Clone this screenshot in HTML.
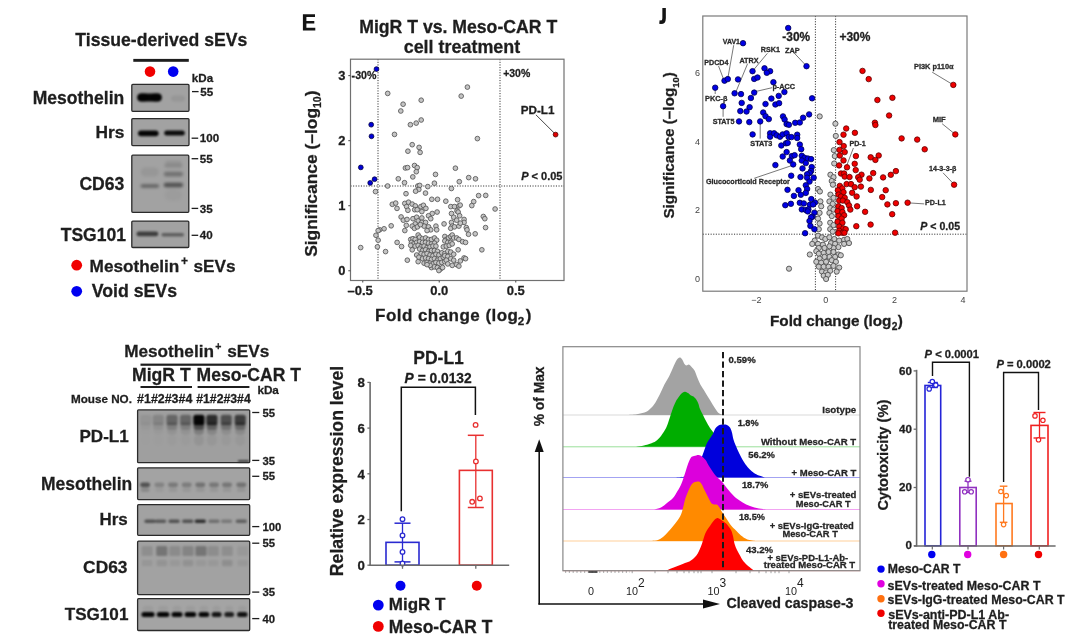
<!DOCTYPE html>
<html><head><meta charset="utf-8"><title>Figure</title>
<style>html,body{margin:0;padding:0;background:#fff;width:1080px;height:643px;overflow:hidden}svg{display:block;filter:blur(0.4px)}text{font-family:"Liberation Sans",sans-serif}</style>
</head><body>
<svg width="1080" height="643" viewBox="0 0 1080 643" font-family="Liberation Sans, sans-serif" fill="#1e1e1e">
<defs>
<filter id="b1" x="-50%" y="-50%" width="200%" height="200%"><feGaussianBlur stdDeviation="1.2"/></filter>
<filter id="b15" x="-50%" y="-50%" width="200%" height="200%"><feGaussianBlur stdDeviation="1.5"/></filter>
<filter id="b2" x="-50%" y="-50%" width="200%" height="200%"><feGaussianBlur stdDeviation="2"/></filter>
<filter id="b05" x="-50%" y="-50%" width="200%" height="200%"><feGaussianBlur stdDeviation="0.6"/></filter>
</defs>
<rect width="1080" height="643" fill="#ffffff"/>
<text x="75.30" y="45.70" font-size="17.63" font-weight="bold" stroke="#1e1e1e" stroke-width="0.28">Tissue-derived sEVs</text>
<rect x="133.30" y="58.90" width="55.50" height="2.90" fill="#1e1e1e" stroke="none" stroke-width="1" />
<circle cx="150.00" cy="71.60" r="5.30" fill="#f00000" stroke="none" stroke-width="1"/>
<circle cx="173.20" cy="71.60" r="5.30" fill="#0000f0" stroke="none" stroke-width="1"/>
<text x="191.80" y="82.10" font-size="11.61" font-weight="bold" stroke="#1e1e1e" stroke-width="0.28">kDa</text>
<g>
<rect x="131.80" y="84.40" width="57.20" height="26.90" fill="#a2a2a2" stroke="none" stroke-width="1" />
<g filter="url(#b1)">
<rect x="137.2" y="93.4" width="24.6" height="8.0" rx="4.0" fill="#000" opacity="0.97"/>
<rect x="137.5" y="93.0" width="11.0" height="8.8" rx="4.4" fill="#000" opacity="0.5"/>
<rect x="150.5" y="93.0" width="11.0" height="8.8" rx="4.4" fill="#000" opacity="0.5"/>
<rect x="171.0" y="95.5" width="14.0" height="6.0" rx="3.0" fill="#000" opacity="0.07"/>
</g>
<rect x="131.80" y="84.40" width="57.20" height="26.90" fill="none" stroke="#2b2b2b" stroke-width="1.3" rx="1"/>
</g>
<g>
<rect x="131.80" y="118.60" width="57.20" height="27.00" fill="#a2a2a2" stroke="none" stroke-width="1" />
<g filter="url(#b1)">
<rect x="138.0" y="130.4" width="20.6" height="5.8" rx="2.9" fill="#000" opacity="0.97"/>
<rect x="164.2" y="130.5" width="20.6" height="5.0" rx="2.5" fill="#000" opacity="0.93"/>
</g>
<rect x="131.80" y="118.60" width="57.20" height="27.00" fill="none" stroke="#2b2b2b" stroke-width="1.3" rx="1"/>
</g>
<g>
<rect x="131.80" y="155.20" width="57.00" height="57.10" fill="#a2a2a2" stroke="none" stroke-width="1" />
<g filter="url(#b15)">
<rect x="140.5" y="184.2" width="18.6" height="3.6" rx="1.8" fill="#000" opacity="0.4"/>
<rect x="163.7" y="182.7" width="19.4" height="4.6" rx="2.3" fill="#000" opacity="0.5"/>
<rect x="163.7" y="171.7" width="19.4" height="4.8" rx="2.4" fill="#000" opacity="0.3"/>
<rect x="164.4" y="163.3" width="18.0" height="4.4" rx="2.2" fill="#000" opacity="0.15"/>
<rect x="165.4" y="160.5" width="16.0" height="3.0" rx="1.5" fill="#000" opacity="0.08"/>
<rect x="140.8" y="167.5" width="18.0" height="9.0" rx="4.5" fill="#000" opacity="0.07"/>
<rect x="164.4" y="189.0" width="18.0" height="12.0" rx="6.0" fill="#000" opacity="0.035"/>
</g>
<rect x="131.80" y="155.20" width="57.00" height="57.10" fill="none" stroke="#2b2b2b" stroke-width="1.3" rx="1"/>
</g>
<g>
<rect x="131.80" y="221.10" width="57.00" height="26.40" fill="#a2a2a2" stroke="none" stroke-width="1" />
<g filter="url(#b1)">
<rect x="136.5" y="231.5" width="21.8" height="4.8" rx="2.4" fill="#000" opacity="0.62"/>
<rect x="161.4" y="232.9" width="22.6" height="3.6" rx="1.8" fill="#000" opacity="0.42"/>
</g>
<rect x="131.80" y="221.10" width="57.00" height="26.40" fill="none" stroke="#2b2b2b" stroke-width="1.3" rx="1"/>
</g>
<text x="32.70" y="104.00" font-size="17.54" font-weight="bold" stroke="#1e1e1e" stroke-width="0.28">Mesothelin</text>
<text x="95.50" y="138.30" font-size="17.33" font-weight="bold" stroke="#1e1e1e" stroke-width="0.28">Hrs</text>
<text x="79.40" y="189.80" font-size="17.56" font-weight="bold" stroke="#1e1e1e" stroke-width="0.28">CD63</text>
<text x="60.70" y="240.80" font-size="17.56" font-weight="bold" stroke="#1e1e1e" stroke-width="0.28">TSG101</text>
<line x1="192.00" y1="91.60" x2="198.60" y2="91.60" stroke="#1e1e1e" stroke-width="1.3" />
<text x="200.20" y="95.70" font-size="11.60" font-weight="bold" stroke="#1e1e1e" stroke-width="0.28">55</text>
<line x1="191.60" y1="138.20" x2="198.20" y2="138.20" stroke="#1e1e1e" stroke-width="1.3" />
<text x="199.80" y="142.30" font-size="11.60" font-weight="bold" stroke="#1e1e1e" stroke-width="0.28">100</text>
<line x1="191.60" y1="158.70" x2="198.20" y2="158.70" stroke="#1e1e1e" stroke-width="1.3" />
<text x="199.80" y="162.80" font-size="11.60" font-weight="bold" stroke="#1e1e1e" stroke-width="0.28">55</text>
<line x1="191.60" y1="208.40" x2="198.20" y2="208.40" stroke="#1e1e1e" stroke-width="1.3" />
<text x="199.80" y="212.50" font-size="11.60" font-weight="bold" stroke="#1e1e1e" stroke-width="0.28">35</text>
<line x1="191.60" y1="235.30" x2="198.20" y2="235.30" stroke="#1e1e1e" stroke-width="1.3" />
<text x="199.80" y="239.40" font-size="11.60" font-weight="bold" stroke="#1e1e1e" stroke-width="0.28">40</text>
<circle cx="76.70" cy="265.20" r="5.40" fill="#f00000" stroke="none" stroke-width="1"/>
<text x="89.60" y="271.90" font-size="17.20" font-weight="bold" stroke="#1e1e1e" stroke-width="0.28">Mesothelin</text>
<text x="181.00" y="265.20" font-size="12.00" font-weight="bold" stroke="#1e1e1e" stroke-width="0.28">+</text>
<text x="193.50" y="271.90" font-size="17.20" font-weight="bold" stroke="#1e1e1e" stroke-width="0.28">sEVs</text>
<circle cx="76.70" cy="291.30" r="5.40" fill="#0000f0" stroke="none" stroke-width="1"/>
<text x="91.70" y="296.80" font-size="17.73" font-weight="bold" stroke="#1e1e1e" stroke-width="0.28">Void sEVs</text>
<text x="124.20" y="357.00" font-size="17.20" font-weight="bold" stroke="#1e1e1e" stroke-width="0.28">Mesothelin</text>
<text x="215.30" y="350.00" font-size="10.50" font-weight="bold" stroke="#1e1e1e" stroke-width="0.28">+</text>
<text x="227.20" y="357.00" font-size="17.20" font-weight="bold" stroke="#1e1e1e" stroke-width="0.28">sEVs</text>
<rect x="140.50" y="363.60" width="110.50" height="2.20" fill="#1e1e1e" stroke="none" stroke-width="1" />
<text x="132.00" y="380.50" font-size="17.61" font-weight="bold" stroke="#1e1e1e" stroke-width="0.28">MigR T</text>
<text x="196.60" y="381.00" font-size="17.56" font-weight="bold" stroke="#1e1e1e" stroke-width="0.28">Meso-CAR T</text>
<rect x="140.50" y="386.00" width="51.50" height="2.00" fill="#1e1e1e" stroke="none" stroke-width="1" />
<rect x="197.60" y="386.00" width="51.80" height="2.00" fill="#1e1e1e" stroke="none" stroke-width="1" />
<text x="257.40" y="393.90" font-size="11.72" font-weight="bold" stroke="#1e1e1e" stroke-width="0.28">kDa</text>
<text x="70.90" y="403.00" font-size="11.70" font-weight="bold" stroke="#1e1e1e" stroke-width="0.28">Mouse NO.</text>
<text x="137.10" y="403.00" font-size="12.41" font-weight="bold" stroke="#1e1e1e" stroke-width="0.28">#1#2#3#4</text>
<text x="196.20" y="403.00" font-size="12.27" font-weight="bold" stroke="#1e1e1e" stroke-width="0.28">#1#2#3#4</text>
<g>
<rect x="137.60" y="409.80" width="112.10" height="52.90" fill="#9f9f9f" stroke="none" stroke-width="1" />
<g filter="url(#b1)">
<rect x="140.1" y="414.8" width="11.2" height="10.4" rx="2.5" fill="#000" opacity="0.07"/>
<rect x="140.3" y="422.5" width="10.8" height="7.0" rx="2.5" fill="#000" opacity="0.035"/>
<rect x="140.7" y="427.5" width="10.0" height="7.0" rx="3.5" fill="#000" opacity="0.015400000000000002"/>
<rect x="140.7" y="434.0" width="10.0" height="12.0" rx="5.0" fill="#000" opacity="0.004900000000000001"/>
<rect x="152.7" y="414.8" width="11.2" height="10.4" rx="2.5" fill="#000" opacity="0.16"/>
<rect x="152.9" y="422.5" width="10.8" height="7.0" rx="2.5" fill="#000" opacity="0.08"/>
<rect x="153.3" y="427.5" width="10.0" height="7.0" rx="3.5" fill="#000" opacity="0.0352"/>
<rect x="153.3" y="434.0" width="10.0" height="12.0" rx="5.0" fill="#000" opacity="0.011200000000000002"/>
<rect x="166.4" y="414.8" width="11.2" height="10.4" rx="2.5" fill="#000" opacity="0.36"/>
<rect x="166.6" y="422.5" width="10.8" height="7.0" rx="2.5" fill="#000" opacity="0.18"/>
<rect x="167.0" y="427.5" width="10.0" height="7.0" rx="3.5" fill="#000" opacity="0.07919999999999999"/>
<rect x="167.0" y="434.0" width="10.0" height="12.0" rx="5.0" fill="#000" opacity="0.0252"/>
<rect x="180.0" y="414.8" width="11.2" height="10.4" rx="2.5" fill="#000" opacity="0.36"/>
<rect x="180.2" y="422.5" width="10.8" height="7.0" rx="2.5" fill="#000" opacity="0.18"/>
<rect x="180.6" y="427.5" width="10.0" height="7.0" rx="3.5" fill="#000" opacity="0.07919999999999999"/>
<rect x="180.6" y="434.0" width="10.0" height="12.0" rx="5.0" fill="#000" opacity="0.0252"/>
<rect x="193.3" y="414.8" width="11.2" height="10.4" rx="2.5" fill="#000" opacity="0.97"/>
<rect x="193.5" y="422.5" width="10.8" height="7.0" rx="2.5" fill="#000" opacity="0.485"/>
<rect x="193.9" y="427.5" width="10.0" height="7.0" rx="3.5" fill="#000" opacity="0.2134"/>
<rect x="193.9" y="434.0" width="10.0" height="12.0" rx="5.0" fill="#000" opacity="0.0679"/>
<rect x="206.3" y="414.8" width="11.2" height="10.4" rx="2.5" fill="#000" opacity="0.72"/>
<rect x="206.5" y="422.5" width="10.8" height="7.0" rx="2.5" fill="#000" opacity="0.36"/>
<rect x="206.9" y="427.5" width="10.0" height="7.0" rx="3.5" fill="#000" opacity="0.15839999999999999"/>
<rect x="206.9" y="434.0" width="10.0" height="12.0" rx="5.0" fill="#000" opacity="0.0504"/>
<rect x="220.6" y="414.8" width="11.2" height="10.4" rx="2.5" fill="#000" opacity="0.5"/>
<rect x="220.8" y="422.5" width="10.8" height="7.0" rx="2.5" fill="#000" opacity="0.25"/>
<rect x="221.2" y="427.5" width="10.0" height="7.0" rx="3.5" fill="#000" opacity="0.11"/>
<rect x="221.2" y="434.0" width="10.0" height="12.0" rx="5.0" fill="#000" opacity="0.035"/>
<rect x="234.6" y="414.8" width="11.2" height="10.4" rx="2.5" fill="#000" opacity="0.62"/>
<rect x="234.8" y="422.5" width="10.8" height="7.0" rx="2.5" fill="#000" opacity="0.31"/>
<rect x="235.2" y="427.5" width="10.0" height="7.0" rx="3.5" fill="#000" opacity="0.1364"/>
<rect x="235.2" y="434.0" width="10.0" height="12.0" rx="5.0" fill="#000" opacity="0.0434"/>
<rect x="238.0" y="460.5" width="11.0" height="1.6" rx="0.5" fill="#000" opacity="0.9"/>
</g>
<rect x="137.60" y="409.80" width="112.10" height="52.90" fill="none" stroke="#2b2b2b" stroke-width="1.3" rx="1"/>
</g>
<g>
<rect x="137.60" y="467.80" width="112.10" height="31.80" fill="#a3a3a3" stroke="none" stroke-width="1" />
<g filter="url(#b1)">
<rect x="140.1" y="482.4" width="10.0" height="4.8" rx="2.4" fill="#000" opacity="0.5"/>
<rect x="154.4" y="482.4" width="10.0" height="4.8" rx="2.4" fill="#000" opacity="0.2"/>
<rect x="168.0" y="482.4" width="10.0" height="4.8" rx="2.4" fill="#000" opacity="0.26"/>
<rect x="181.7" y="482.4" width="10.0" height="4.8" rx="2.4" fill="#000" opacity="0.24"/>
<rect x="195.3" y="482.4" width="10.0" height="4.8" rx="2.4" fill="#000" opacity="0.3"/>
<rect x="209.0" y="482.4" width="10.0" height="4.8" rx="2.4" fill="#000" opacity="0.27"/>
<rect x="222.0" y="482.4" width="10.0" height="4.8" rx="2.4" fill="#000" opacity="0.28"/>
<rect x="236.3" y="482.4" width="10.0" height="4.8" rx="2.4" fill="#000" opacity="0.3"/>
<rect x="140.6" y="488.0" width="9.0" height="4.0" rx="2.0" fill="#000" opacity="0.155"/>
<rect x="154.9" y="488.0" width="9.0" height="4.0" rx="2.0" fill="#000" opacity="0.055"/>
<rect x="168.5" y="488.0" width="9.0" height="4.0" rx="2.0" fill="#000" opacity="0.075"/>
<rect x="182.2" y="488.0" width="9.0" height="4.0" rx="2.0" fill="#000" opacity="0.07"/>
<rect x="195.8" y="488.0" width="9.0" height="4.0" rx="2.0" fill="#000" opacity="0.0825"/>
<rect x="209.5" y="488.0" width="9.0" height="4.0" rx="2.0" fill="#000" opacity="0.075"/>
<rect x="222.5" y="488.0" width="9.0" height="4.0" rx="2.0" fill="#000" opacity="0.08"/>
<rect x="236.8" y="488.0" width="9.0" height="4.0" rx="2.0" fill="#000" opacity="0.085"/>
</g>
<rect x="137.60" y="467.80" width="112.10" height="31.80" fill="none" stroke="#2b2b2b" stroke-width="1.3" rx="1"/>
</g>
<g>
<rect x="137.60" y="504.70" width="112.10" height="30.60" fill="#a2a2a2" stroke="none" stroke-width="1" />
<g filter="url(#b1)">
<rect x="144.4" y="519.5" width="11.2" height="3.4" rx="1.7" fill="#000" opacity="0.5"/>
<rect x="155.0" y="519.5" width="11.2" height="3.4" rx="1.7" fill="#000" opacity="0.45"/>
<rect x="168.5" y="519.5" width="11.2" height="3.4" rx="1.7" fill="#000" opacity="0.5"/>
<rect x="182.1" y="519.5" width="11.2" height="3.4" rx="1.7" fill="#000" opacity="0.5"/>
<rect x="194.7" y="519.5" width="11.2" height="3.4" rx="1.7" fill="#000" opacity="0.72"/>
<rect x="208.4" y="519.5" width="11.2" height="3.4" rx="1.7" fill="#000" opacity="0.32"/>
<rect x="221.0" y="519.5" width="11.2" height="3.4" rx="1.7" fill="#000" opacity="0.26"/>
<rect x="235.7" y="519.5" width="11.2" height="3.4" rx="1.7" fill="#000" opacity="0.42"/>
</g>
<rect x="137.60" y="504.70" width="112.10" height="30.60" fill="none" stroke="#2b2b2b" stroke-width="1.3" rx="1"/>
</g>
<g>
<rect x="137.60" y="541.20" width="112.10" height="53.40" fill="#a2a2a2" stroke="none" stroke-width="1" />
<g filter="url(#b1)">
<rect x="141.5" y="546.0" width="11.2" height="10.0" rx="1.5" fill="#000" opacity="0.12"/>
<rect x="156.2" y="546.0" width="11.2" height="10.0" rx="1.5" fill="#000" opacity="0.28"/>
<rect x="169.3" y="546.0" width="11.2" height="10.0" rx="1.5" fill="#000" opacity="0.14"/>
<rect x="182.4" y="546.0" width="11.2" height="10.0" rx="1.5" fill="#000" opacity="0.19"/>
<rect x="195.4" y="546.0" width="11.2" height="10.0" rx="1.5" fill="#000" opacity="0.28"/>
<rect x="207.7" y="546.0" width="11.2" height="10.0" rx="1.5" fill="#000" opacity="0.13"/>
<rect x="221.6" y="546.0" width="11.2" height="10.0" rx="1.5" fill="#000" opacity="0.12"/>
<rect x="237.1" y="546.0" width="11.2" height="10.0" rx="1.5" fill="#000" opacity="0.06"/>
<rect x="141.8" y="559.8" width="10.6" height="6.4" rx="1.5" fill="#000" opacity="0.07"/>
<rect x="156.5" y="559.8" width="10.6" height="6.4" rx="1.5" fill="#000" opacity="0.09"/>
<rect x="169.6" y="559.8" width="10.6" height="6.4" rx="1.5" fill="#000" opacity="0.06"/>
<rect x="182.7" y="559.8" width="10.6" height="6.4" rx="1.5" fill="#000" opacity="0.1"/>
<rect x="195.7" y="559.8" width="10.6" height="6.4" rx="1.5" fill="#000" opacity="0.06"/>
<rect x="208.0" y="559.8" width="10.6" height="6.4" rx="1.5" fill="#000" opacity="0.06"/>
<rect x="221.9" y="559.8" width="10.6" height="6.4" rx="1.5" fill="#000" opacity="0.12"/>
<rect x="237.4" y="559.8" width="10.6" height="6.4" rx="1.5" fill="#000" opacity="0.06"/>
</g>
<rect x="137.60" y="541.20" width="112.10" height="53.40" fill="none" stroke="#2b2b2b" stroke-width="1.3" rx="1"/>
</g>
<g>
<rect x="137.60" y="598.70" width="112.10" height="31.80" fill="#a4a4a4" stroke="none" stroke-width="1" />
<g filter="url(#b1)">
<rect x="141.4" y="612.0" width="13.2" height="5.0" rx="2.5" fill="#000" opacity="0.97"/>
<rect x="156.8" y="612.0" width="12.6" height="5.0" rx="2.5" fill="#000" opacity="0.97"/>
<rect x="171.5" y="612.0" width="11.0" height="5.0" rx="2.5" fill="#000" opacity="0.96"/>
<rect x="184.6" y="612.0" width="11.6" height="5.0" rx="2.5" fill="#000" opacity="0.97"/>
<rect x="198.5" y="612.0" width="10.8" height="5.0" rx="2.5" fill="#000" opacity="0.95"/>
<rect x="211.6" y="612.0" width="10.0" height="5.0" rx="2.5" fill="#000" opacity="0.88"/>
<rect x="224.3" y="612.0" width="9.8" height="5.0" rx="2.5" fill="#000" opacity="0.82"/>
<rect x="237.0" y="612.0" width="10.6" height="5.0" rx="2.5" fill="#000" opacity="0.9"/>
<rect x="142.7" y="606.0" width="10.6" height="5.0" rx="2.5" fill="#000" opacity="0.05"/>
<rect x="158.1" y="606.0" width="10.1" height="5.0" rx="2.5" fill="#000" opacity="0.05"/>
<rect x="172.6" y="606.0" width="8.8" height="5.0" rx="2.5" fill="#000" opacity="0.05"/>
<rect x="185.8" y="606.0" width="9.3" height="5.0" rx="2.5" fill="#000" opacity="0.05"/>
<rect x="199.6" y="606.0" width="8.6" height="5.0" rx="2.5" fill="#000" opacity="0.05"/>
<rect x="212.6" y="606.0" width="8.0" height="5.0" rx="2.5" fill="#000" opacity="0.05"/>
<rect x="225.3" y="606.0" width="7.8" height="5.0" rx="2.5" fill="#000" opacity="0.05"/>
<rect x="238.1" y="606.0" width="8.5" height="5.0" rx="2.5" fill="#000" opacity="0.05"/>
</g>
<rect x="137.60" y="598.70" width="112.10" height="31.80" fill="none" stroke="#2b2b2b" stroke-width="1.3" rx="1"/>
</g>
<text x="79.40" y="441.80" font-size="17.10" font-weight="bold" stroke="#1e1e1e" stroke-width="0.28">PD-L1</text>
<text x="41.00" y="490.00" font-size="17.48" font-weight="bold" stroke="#1e1e1e" stroke-width="0.28">Mesothelin</text>
<text x="99.40" y="525.30" font-size="16.97" font-weight="bold" stroke="#1e1e1e" stroke-width="0.28">Hrs</text>
<text x="83.10" y="572.80" font-size="17.37" font-weight="bold" stroke="#1e1e1e" stroke-width="0.28">CD63</text>
<text x="64.70" y="619.60" font-size="17.13" font-weight="bold" stroke="#1e1e1e" stroke-width="0.28">TSG101</text>
<line x1="252.20" y1="412.50" x2="259.30" y2="412.50" stroke="#1e1e1e" stroke-width="1.3" />
<text x="262.40" y="416.60" font-size="11.30" font-weight="bold" stroke="#1e1e1e" stroke-width="0.28">55</text>
<line x1="252.20" y1="460.40" x2="259.30" y2="460.40" stroke="#1e1e1e" stroke-width="1.3" />
<text x="262.40" y="464.50" font-size="11.30" font-weight="bold" stroke="#1e1e1e" stroke-width="0.28">35</text>
<line x1="252.20" y1="476.30" x2="259.30" y2="476.30" stroke="#1e1e1e" stroke-width="1.3" />
<text x="262.40" y="480.40" font-size="11.30" font-weight="bold" stroke="#1e1e1e" stroke-width="0.28">55</text>
<line x1="252.20" y1="526.60" x2="259.30" y2="526.60" stroke="#1e1e1e" stroke-width="1.3" />
<text x="262.40" y="530.70" font-size="11.30" font-weight="bold" stroke="#1e1e1e" stroke-width="0.28">100</text>
<line x1="252.20" y1="543.20" x2="259.30" y2="543.20" stroke="#1e1e1e" stroke-width="1.3" />
<text x="262.40" y="547.30" font-size="11.30" font-weight="bold" stroke="#1e1e1e" stroke-width="0.28">55</text>
<line x1="252.20" y1="592.10" x2="259.30" y2="592.10" stroke="#1e1e1e" stroke-width="1.3" />
<text x="262.40" y="596.20" font-size="11.30" font-weight="bold" stroke="#1e1e1e" stroke-width="0.28">35</text>
<line x1="252.20" y1="618.60" x2="259.30" y2="618.60" stroke="#1e1e1e" stroke-width="1.3" />
<text x="262.40" y="622.70" font-size="11.30" font-weight="bold" stroke="#1e1e1e" stroke-width="0.28">40</text>
<path d="M302.9,14.2 H315.0 V17.0 H306.4 V20.9 H314.3 V23.5 H306.4 V27.7 H315.3 V30.5 H302.9 Z" fill="#141414"/>
<text x="359.20" y="32.90" font-size="17.65" font-weight="bold" stroke="#1e1e1e" stroke-width="0.28">MigR T vs. Meso-CAR T</text>
<text x="403.70" y="53.20" font-size="17.93" font-weight="bold" stroke="#1e1e1e" stroke-width="0.28">cell treatment</text>
<line x1="378.00" y1="59.20" x2="378.00" y2="280.50" stroke="#333" stroke-width="1" stroke-dasharray="1.1 1.5"/>
<line x1="500.00" y1="59.20" x2="500.00" y2="280.50" stroke="#333" stroke-width="1" stroke-dasharray="1.1 1.5"/>
<line x1="350.50" y1="186.00" x2="564.00" y2="186.00" stroke="#333" stroke-width="1" stroke-dasharray="1.1 1.5"/>
<circle cx="387.70" cy="93.40" r="2.35" fill="#c4c4c4" stroke="#555555" stroke-width="0.85"/>
<circle cx="421.20" cy="100.20" r="2.35" fill="#c4c4c4" stroke="#555555" stroke-width="0.85"/>
<circle cx="403.10" cy="104.20" r="2.35" fill="#c4c4c4" stroke="#555555" stroke-width="0.85"/>
<circle cx="400.80" cy="111.00" r="2.35" fill="#c4c4c4" stroke="#555555" stroke-width="0.85"/>
<circle cx="421.20" cy="120.00" r="2.35" fill="#c4c4c4" stroke="#555555" stroke-width="0.85"/>
<circle cx="416.20" cy="123.10" r="2.35" fill="#c4c4c4" stroke="#555555" stroke-width="0.85"/>
<circle cx="410.40" cy="124.70" r="2.35" fill="#c4c4c4" stroke="#555555" stroke-width="0.85"/>
<circle cx="394.50" cy="134.40" r="2.35" fill="#c4c4c4" stroke="#555555" stroke-width="0.85"/>
<circle cx="467.40" cy="87.10" r="2.35" fill="#c4c4c4" stroke="#555555" stroke-width="0.85"/>
<circle cx="461.20" cy="96.10" r="2.35" fill="#c4c4c4" stroke="#555555" stroke-width="0.85"/>
<circle cx="477.40" cy="138.60" r="2.35" fill="#c4c4c4" stroke="#555555" stroke-width="0.85"/>
<circle cx="412.20" cy="144.70" r="2.35" fill="#c4c4c4" stroke="#555555" stroke-width="0.85"/>
<circle cx="419.10" cy="147.40" r="2.35" fill="#c4c4c4" stroke="#555555" stroke-width="0.85"/>
<circle cx="407.90" cy="151.20" r="2.35" fill="#c4c4c4" stroke="#555555" stroke-width="0.85"/>
<circle cx="420.10" cy="152.40" r="2.35" fill="#c4c4c4" stroke="#555555" stroke-width="0.85"/>
<circle cx="414.50" cy="165.50" r="2.35" fill="#c4c4c4" stroke="#555555" stroke-width="0.85"/>
<circle cx="417.20" cy="167.60" r="2.35" fill="#c4c4c4" stroke="#555555" stroke-width="0.85"/>
<circle cx="405.40" cy="168.00" r="2.35" fill="#c4c4c4" stroke="#555555" stroke-width="0.85"/>
<circle cx="407.60" cy="167.60" r="2.35" fill="#c4c4c4" stroke="#555555" stroke-width="0.85"/>
<circle cx="416.30" cy="171.70" r="2.35" fill="#c4c4c4" stroke="#555555" stroke-width="0.85"/>
<circle cx="412.80" cy="176.90" r="2.35" fill="#c4c4c4" stroke="#555555" stroke-width="0.85"/>
<circle cx="398.30" cy="178.80" r="2.35" fill="#c4c4c4" stroke="#555555" stroke-width="0.85"/>
<circle cx="404.50" cy="182.70" r="2.35" fill="#c4c4c4" stroke="#555555" stroke-width="0.85"/>
<circle cx="435.50" cy="174.40" r="2.35" fill="#c4c4c4" stroke="#555555" stroke-width="0.85"/>
<circle cx="455.40" cy="168.20" r="2.35" fill="#c4c4c4" stroke="#555555" stroke-width="0.85"/>
<circle cx="434.40" cy="183.20" r="2.35" fill="#c4c4c4" stroke="#555555" stroke-width="0.85"/>
<circle cx="459.30" cy="181.70" r="2.35" fill="#c4c4c4" stroke="#555555" stroke-width="0.85"/>
<circle cx="387.60" cy="186.00" r="2.35" fill="#c4c4c4" stroke="#555555" stroke-width="0.85"/>
<circle cx="417.80" cy="186.00" r="2.35" fill="#c4c4c4" stroke="#555555" stroke-width="0.85"/>
<circle cx="419.70" cy="185.40" r="2.35" fill="#c4c4c4" stroke="#555555" stroke-width="0.85"/>
<circle cx="427.80" cy="186.60" r="2.35" fill="#c4c4c4" stroke="#555555" stroke-width="0.85"/>
<circle cx="418.80" cy="189.50" r="2.35" fill="#c4c4c4" stroke="#555555" stroke-width="0.85"/>
<circle cx="415.60" cy="191.20" r="2.35" fill="#c4c4c4" stroke="#555555" stroke-width="0.85"/>
<circle cx="451.40" cy="188.50" r="2.35" fill="#c4c4c4" stroke="#555555" stroke-width="0.85"/>
<circle cx="375.50" cy="191.60" r="2.35" fill="#c4c4c4" stroke="#555555" stroke-width="0.85"/>
<circle cx="406.00" cy="193.70" r="2.35" fill="#c4c4c4" stroke="#555555" stroke-width="0.85"/>
<circle cx="425.50" cy="193.10" r="2.35" fill="#c4c4c4" stroke="#555555" stroke-width="0.85"/>
<circle cx="431.80" cy="199.30" r="2.35" fill="#c4c4c4" stroke="#555555" stroke-width="0.85"/>
<circle cx="437.50" cy="199.30" r="2.35" fill="#c4c4c4" stroke="#555555" stroke-width="0.85"/>
<circle cx="445.80" cy="201.20" r="2.35" fill="#c4c4c4" stroke="#555555" stroke-width="0.85"/>
<circle cx="457.60" cy="199.70" r="2.35" fill="#c4c4c4" stroke="#555555" stroke-width="0.85"/>
<circle cx="392.30" cy="204.30" r="2.35" fill="#c4c4c4" stroke="#555555" stroke-width="0.85"/>
<circle cx="395.70" cy="203.10" r="2.35" fill="#c4c4c4" stroke="#555555" stroke-width="0.85"/>
<circle cx="397.00" cy="208.40" r="2.35" fill="#c4c4c4" stroke="#555555" stroke-width="0.85"/>
<circle cx="404.80" cy="203.40" r="2.35" fill="#c4c4c4" stroke="#555555" stroke-width="0.85"/>
<circle cx="408.50" cy="202.20" r="2.35" fill="#c4c4c4" stroke="#555555" stroke-width="0.85"/>
<circle cx="406.60" cy="206.60" r="2.35" fill="#c4c4c4" stroke="#555555" stroke-width="0.85"/>
<circle cx="412.20" cy="204.10" r="2.35" fill="#c4c4c4" stroke="#555555" stroke-width="0.85"/>
<circle cx="415.30" cy="205.90" r="2.35" fill="#c4c4c4" stroke="#555555" stroke-width="0.85"/>
<circle cx="420.90" cy="206.60" r="2.35" fill="#c4c4c4" stroke="#555555" stroke-width="0.85"/>
<circle cx="423.40" cy="205.30" r="2.35" fill="#c4c4c4" stroke="#555555" stroke-width="0.85"/>
<circle cx="425.90" cy="208.40" r="2.35" fill="#c4c4c4" stroke="#555555" stroke-width="0.85"/>
<circle cx="407.90" cy="210.30" r="2.35" fill="#c4c4c4" stroke="#555555" stroke-width="0.85"/>
<circle cx="414.70" cy="209.70" r="2.35" fill="#c4c4c4" stroke="#555555" stroke-width="0.85"/>
<circle cx="417.20" cy="209.70" r="2.35" fill="#c4c4c4" stroke="#555555" stroke-width="0.85"/>
<circle cx="450.80" cy="206.60" r="2.35" fill="#c4c4c4" stroke="#555555" stroke-width="0.85"/>
<circle cx="454.50" cy="206.60" r="2.35" fill="#c4c4c4" stroke="#555555" stroke-width="0.85"/>
<circle cx="458.90" cy="205.90" r="2.35" fill="#c4c4c4" stroke="#555555" stroke-width="0.85"/>
<circle cx="457.00" cy="210.90" r="2.35" fill="#c4c4c4" stroke="#555555" stroke-width="0.85"/>
<circle cx="468.70" cy="177.60" r="2.35" fill="#c4c4c4" stroke="#555555" stroke-width="0.85"/>
<circle cx="475.50" cy="178.80" r="2.35" fill="#c4c4c4" stroke="#555555" stroke-width="0.85"/>
<circle cx="478.60" cy="195.60" r="2.35" fill="#c4c4c4" stroke="#555555" stroke-width="0.85"/>
<circle cx="485.70" cy="195.40" r="2.35" fill="#c4c4c4" stroke="#555555" stroke-width="0.85"/>
<circle cx="473.70" cy="201.60" r="2.35" fill="#c4c4c4" stroke="#555555" stroke-width="0.85"/>
<circle cx="460.20" cy="205.10" r="2.35" fill="#c4c4c4" stroke="#555555" stroke-width="0.85"/>
<circle cx="471.80" cy="205.60" r="2.35" fill="#c4c4c4" stroke="#555555" stroke-width="0.85"/>
<circle cx="495.10" cy="209.00" r="2.35" fill="#c4c4c4" stroke="#555555" stroke-width="0.85"/>
<circle cx="421.85" cy="211.59" r="2.35" fill="#c4c4c4" stroke="#555555" stroke-width="0.85"/>
<circle cx="437.11" cy="212.04" r="2.35" fill="#c4c4c4" stroke="#555555" stroke-width="0.85"/>
<circle cx="432.22" cy="213.52" r="2.35" fill="#c4c4c4" stroke="#555555" stroke-width="0.85"/>
<circle cx="428.52" cy="215.74" r="2.35" fill="#c4c4c4" stroke="#555555" stroke-width="0.85"/>
<circle cx="430.74" cy="218.70" r="2.35" fill="#c4c4c4" stroke="#555555" stroke-width="0.85"/>
<circle cx="451.48" cy="213.52" r="2.35" fill="#c4c4c4" stroke="#555555" stroke-width="0.85"/>
<circle cx="458.15" cy="212.04" r="2.35" fill="#c4c4c4" stroke="#555555" stroke-width="0.85"/>
<circle cx="459.63" cy="215.74" r="2.35" fill="#c4c4c4" stroke="#555555" stroke-width="0.85"/>
<circle cx="453.70" cy="217.22" r="2.35" fill="#c4c4c4" stroke="#555555" stroke-width="0.85"/>
<circle cx="456.67" cy="220.19" r="2.35" fill="#c4c4c4" stroke="#555555" stroke-width="0.85"/>
<circle cx="464.07" cy="219.44" r="2.35" fill="#c4c4c4" stroke="#555555" stroke-width="0.85"/>
<circle cx="464.07" cy="222.41" r="2.35" fill="#c4c4c4" stroke="#555555" stroke-width="0.85"/>
<circle cx="401.11" cy="216.93" r="2.35" fill="#c4c4c4" stroke="#555555" stroke-width="0.85"/>
<circle cx="403.33" cy="220.19" r="2.35" fill="#c4c4c4" stroke="#555555" stroke-width="0.85"/>
<circle cx="407.04" cy="219.44" r="2.35" fill="#c4c4c4" stroke="#555555" stroke-width="0.85"/>
<circle cx="412.96" cy="218.70" r="2.35" fill="#c4c4c4" stroke="#555555" stroke-width="0.85"/>
<circle cx="416.67" cy="217.22" r="2.35" fill="#c4c4c4" stroke="#555555" stroke-width="0.85"/>
<circle cx="418.15" cy="220.93" r="2.35" fill="#c4c4c4" stroke="#555555" stroke-width="0.85"/>
<circle cx="421.85" cy="217.96" r="2.35" fill="#c4c4c4" stroke="#555555" stroke-width="0.85"/>
<circle cx="421.85" cy="222.41" r="2.35" fill="#c4c4c4" stroke="#555555" stroke-width="0.85"/>
<circle cx="425.56" cy="222.41" r="2.35" fill="#c4c4c4" stroke="#555555" stroke-width="0.85"/>
<circle cx="424.07" cy="226.11" r="2.35" fill="#c4c4c4" stroke="#555555" stroke-width="0.85"/>
<circle cx="428.52" cy="226.85" r="2.35" fill="#c4c4c4" stroke="#555555" stroke-width="0.85"/>
<circle cx="430.74" cy="229.81" r="2.35" fill="#c4c4c4" stroke="#555555" stroke-width="0.85"/>
<circle cx="427.04" cy="230.56" r="2.35" fill="#c4c4c4" stroke="#555555" stroke-width="0.85"/>
<circle cx="435.93" cy="226.11" r="2.35" fill="#c4c4c4" stroke="#555555" stroke-width="0.85"/>
<circle cx="436.67" cy="229.81" r="2.35" fill="#c4c4c4" stroke="#555555" stroke-width="0.85"/>
<circle cx="415.19" cy="223.89" r="2.35" fill="#c4c4c4" stroke="#555555" stroke-width="0.85"/>
<circle cx="412.22" cy="226.11" r="2.35" fill="#c4c4c4" stroke="#555555" stroke-width="0.85"/>
<circle cx="414.44" cy="228.33" r="2.35" fill="#c4c4c4" stroke="#555555" stroke-width="0.85"/>
<circle cx="417.41" cy="226.85" r="2.35" fill="#c4c4c4" stroke="#555555" stroke-width="0.85"/>
<circle cx="420.37" cy="224.63" r="2.35" fill="#c4c4c4" stroke="#555555" stroke-width="0.85"/>
<circle cx="406.30" cy="225.37" r="2.35" fill="#c4c4c4" stroke="#555555" stroke-width="0.85"/>
<circle cx="404.81" cy="230.56" r="2.35" fill="#c4c4c4" stroke="#555555" stroke-width="0.85"/>
<circle cx="391.19" cy="225.81" r="2.35" fill="#c4c4c4" stroke="#555555" stroke-width="0.85"/>
<circle cx="384.07" cy="228.78" r="2.35" fill="#c4c4c4" stroke="#555555" stroke-width="0.85"/>
<circle cx="379.63" cy="229.81" r="2.35" fill="#c4c4c4" stroke="#555555" stroke-width="0.85"/>
<circle cx="378.15" cy="230.56" r="2.35" fill="#c4c4c4" stroke="#555555" stroke-width="0.85"/>
<circle cx="375.93" cy="235.30" r="2.35" fill="#c4c4c4" stroke="#555555" stroke-width="0.85"/>
<circle cx="378.15" cy="240.19" r="2.35" fill="#c4c4c4" stroke="#555555" stroke-width="0.85"/>
<circle cx="377.41" cy="246.85" r="2.35" fill="#c4c4c4" stroke="#555555" stroke-width="0.85"/>
<circle cx="360.67" cy="247.59" r="2.35" fill="#c4c4c4" stroke="#555555" stroke-width="0.85"/>
<circle cx="385.56" cy="251.59" r="2.35" fill="#c4c4c4" stroke="#555555" stroke-width="0.85"/>
<circle cx="397.11" cy="242.41" r="2.35" fill="#c4c4c4" stroke="#555555" stroke-width="0.85"/>
<circle cx="401.56" cy="246.56" r="2.35" fill="#c4c4c4" stroke="#555555" stroke-width="0.85"/>
<circle cx="407.33" cy="260.19" r="2.35" fill="#c4c4c4" stroke="#555555" stroke-width="0.85"/>
<circle cx="412.22" cy="249.81" r="2.35" fill="#c4c4c4" stroke="#555555" stroke-width="0.85"/>
<circle cx="444.07" cy="223.89" r="2.35" fill="#c4c4c4" stroke="#555555" stroke-width="0.85"/>
<circle cx="451.48" cy="222.41" r="2.35" fill="#c4c4c4" stroke="#555555" stroke-width="0.85"/>
<circle cx="452.22" cy="226.11" r="2.35" fill="#c4c4c4" stroke="#555555" stroke-width="0.85"/>
<circle cx="450.74" cy="228.33" r="2.35" fill="#c4c4c4" stroke="#555555" stroke-width="0.85"/>
<circle cx="454.44" cy="226.85" r="2.35" fill="#c4c4c4" stroke="#555555" stroke-width="0.85"/>
<circle cx="458.89" cy="226.11" r="2.35" fill="#c4c4c4" stroke="#555555" stroke-width="0.85"/>
<circle cx="460.37" cy="223.15" r="2.35" fill="#c4c4c4" stroke="#555555" stroke-width="0.85"/>
<circle cx="466.30" cy="227.59" r="2.35" fill="#c4c4c4" stroke="#555555" stroke-width="0.85"/>
<circle cx="467.04" cy="229.81" r="2.35" fill="#c4c4c4" stroke="#555555" stroke-width="0.85"/>
<circle cx="468.52" cy="234.26" r="2.35" fill="#c4c4c4" stroke="#555555" stroke-width="0.85"/>
<circle cx="475.19" cy="233.81" r="2.35" fill="#c4c4c4" stroke="#555555" stroke-width="0.85"/>
<circle cx="483.33" cy="216.48" r="2.35" fill="#c4c4c4" stroke="#555555" stroke-width="0.85"/>
<circle cx="484.81" cy="218.70" r="2.35" fill="#c4c4c4" stroke="#555555" stroke-width="0.85"/>
<circle cx="485.56" cy="227.59" r="2.35" fill="#c4c4c4" stroke="#555555" stroke-width="0.85"/>
<circle cx="481.85" cy="249.81" r="2.35" fill="#c4c4c4" stroke="#555555" stroke-width="0.85"/>
<circle cx="458.15" cy="249.81" r="2.35" fill="#c4c4c4" stroke="#555555" stroke-width="0.85"/>
<circle cx="410.74" cy="239.44" r="2.35" fill="#c4c4c4" stroke="#555555" stroke-width="0.85"/>
<circle cx="412.96" cy="238.70" r="2.35" fill="#c4c4c4" stroke="#555555" stroke-width="0.85"/>
<circle cx="415.19" cy="239.44" r="2.35" fill="#c4c4c4" stroke="#555555" stroke-width="0.85"/>
<circle cx="418.15" cy="235.00" r="2.35" fill="#c4c4c4" stroke="#555555" stroke-width="0.85"/>
<circle cx="419.63" cy="237.22" r="2.35" fill="#c4c4c4" stroke="#555555" stroke-width="0.85"/>
<circle cx="422.59" cy="238.70" r="2.35" fill="#c4c4c4" stroke="#555555" stroke-width="0.85"/>
<circle cx="425.56" cy="237.96" r="2.35" fill="#c4c4c4" stroke="#555555" stroke-width="0.85"/>
<circle cx="428.52" cy="239.44" r="2.35" fill="#c4c4c4" stroke="#555555" stroke-width="0.85"/>
<circle cx="431.48" cy="239.44" r="2.35" fill="#c4c4c4" stroke="#555555" stroke-width="0.85"/>
<circle cx="434.44" cy="237.96" r="2.35" fill="#c4c4c4" stroke="#555555" stroke-width="0.85"/>
<circle cx="436.67" cy="240.19" r="2.35" fill="#c4c4c4" stroke="#555555" stroke-width="0.85"/>
<circle cx="411.48" cy="242.41" r="2.35" fill="#c4c4c4" stroke="#555555" stroke-width="0.85"/>
<circle cx="413.70" cy="243.89" r="2.35" fill="#c4c4c4" stroke="#555555" stroke-width="0.85"/>
<circle cx="416.67" cy="242.41" r="2.35" fill="#c4c4c4" stroke="#555555" stroke-width="0.85"/>
<circle cx="419.63" cy="241.67" r="2.35" fill="#c4c4c4" stroke="#555555" stroke-width="0.85"/>
<circle cx="422.59" cy="242.41" r="2.35" fill="#c4c4c4" stroke="#555555" stroke-width="0.85"/>
<circle cx="425.56" cy="242.41" r="2.35" fill="#c4c4c4" stroke="#555555" stroke-width="0.85"/>
<circle cx="428.52" cy="243.15" r="2.35" fill="#c4c4c4" stroke="#555555" stroke-width="0.85"/>
<circle cx="431.48" cy="243.89" r="2.35" fill="#c4c4c4" stroke="#555555" stroke-width="0.85"/>
<circle cx="434.44" cy="243.15" r="2.35" fill="#c4c4c4" stroke="#555555" stroke-width="0.85"/>
<circle cx="410.74" cy="245.37" r="2.35" fill="#c4c4c4" stroke="#555555" stroke-width="0.85"/>
<circle cx="415.19" cy="246.11" r="2.35" fill="#c4c4c4" stroke="#555555" stroke-width="0.85"/>
<circle cx="418.15" cy="245.37" r="2.35" fill="#c4c4c4" stroke="#555555" stroke-width="0.85"/>
<circle cx="421.11" cy="246.85" r="2.35" fill="#c4c4c4" stroke="#555555" stroke-width="0.85"/>
<circle cx="424.07" cy="246.11" r="2.35" fill="#c4c4c4" stroke="#555555" stroke-width="0.85"/>
<circle cx="427.04" cy="247.59" r="2.35" fill="#c4c4c4" stroke="#555555" stroke-width="0.85"/>
<circle cx="430.00" cy="246.85" r="2.35" fill="#c4c4c4" stroke="#555555" stroke-width="0.85"/>
<circle cx="432.96" cy="246.11" r="2.35" fill="#c4c4c4" stroke="#555555" stroke-width="0.85"/>
<circle cx="435.93" cy="246.11" r="2.35" fill="#c4c4c4" stroke="#555555" stroke-width="0.85"/>
<circle cx="419.63" cy="249.07" r="2.35" fill="#c4c4c4" stroke="#555555" stroke-width="0.85"/>
<circle cx="422.59" cy="250.56" r="2.35" fill="#c4c4c4" stroke="#555555" stroke-width="0.85"/>
<circle cx="425.56" cy="249.81" r="2.35" fill="#c4c4c4" stroke="#555555" stroke-width="0.85"/>
<circle cx="428.52" cy="251.30" r="2.35" fill="#c4c4c4" stroke="#555555" stroke-width="0.85"/>
<circle cx="431.48" cy="250.56" r="2.35" fill="#c4c4c4" stroke="#555555" stroke-width="0.85"/>
<circle cx="434.44" cy="250.56" r="2.35" fill="#c4c4c4" stroke="#555555" stroke-width="0.85"/>
<circle cx="437.41" cy="251.30" r="2.35" fill="#c4c4c4" stroke="#555555" stroke-width="0.85"/>
<circle cx="421.11" cy="253.52" r="2.35" fill="#c4c4c4" stroke="#555555" stroke-width="0.85"/>
<circle cx="424.07" cy="254.26" r="2.35" fill="#c4c4c4" stroke="#555555" stroke-width="0.85"/>
<circle cx="427.04" cy="253.52" r="2.35" fill="#c4c4c4" stroke="#555555" stroke-width="0.85"/>
<circle cx="430.00" cy="255.00" r="2.35" fill="#c4c4c4" stroke="#555555" stroke-width="0.85"/>
<circle cx="432.96" cy="255.74" r="2.35" fill="#c4c4c4" stroke="#555555" stroke-width="0.85"/>
<circle cx="435.93" cy="254.26" r="2.35" fill="#c4c4c4" stroke="#555555" stroke-width="0.85"/>
<circle cx="438.89" cy="255.00" r="2.35" fill="#c4c4c4" stroke="#555555" stroke-width="0.85"/>
<circle cx="416.67" cy="255.00" r="2.35" fill="#c4c4c4" stroke="#555555" stroke-width="0.85"/>
<circle cx="418.89" cy="257.22" r="2.35" fill="#c4c4c4" stroke="#555555" stroke-width="0.85"/>
<circle cx="422.59" cy="258.70" r="2.35" fill="#c4c4c4" stroke="#555555" stroke-width="0.85"/>
<circle cx="425.56" cy="257.96" r="2.35" fill="#c4c4c4" stroke="#555555" stroke-width="0.85"/>
<circle cx="428.52" cy="258.70" r="2.35" fill="#c4c4c4" stroke="#555555" stroke-width="0.85"/>
<circle cx="431.48" cy="259.44" r="2.35" fill="#c4c4c4" stroke="#555555" stroke-width="0.85"/>
<circle cx="434.44" cy="258.70" r="2.35" fill="#c4c4c4" stroke="#555555" stroke-width="0.85"/>
<circle cx="437.41" cy="260.19" r="2.35" fill="#c4c4c4" stroke="#555555" stroke-width="0.85"/>
<circle cx="440.37" cy="258.70" r="2.35" fill="#c4c4c4" stroke="#555555" stroke-width="0.85"/>
<circle cx="443.33" cy="257.22" r="2.35" fill="#c4c4c4" stroke="#555555" stroke-width="0.85"/>
<circle cx="418.15" cy="261.67" r="2.35" fill="#c4c4c4" stroke="#555555" stroke-width="0.85"/>
<circle cx="424.07" cy="263.15" r="2.35" fill="#c4c4c4" stroke="#555555" stroke-width="0.85"/>
<circle cx="427.04" cy="262.41" r="2.35" fill="#c4c4c4" stroke="#555555" stroke-width="0.85"/>
<circle cx="430.00" cy="263.15" r="2.35" fill="#c4c4c4" stroke="#555555" stroke-width="0.85"/>
<circle cx="432.96" cy="263.89" r="2.35" fill="#c4c4c4" stroke="#555555" stroke-width="0.85"/>
<circle cx="435.93" cy="262.41" r="2.35" fill="#c4c4c4" stroke="#555555" stroke-width="0.85"/>
<circle cx="438.89" cy="263.15" r="2.35" fill="#c4c4c4" stroke="#555555" stroke-width="0.85"/>
<circle cx="441.85" cy="262.41" r="2.35" fill="#c4c4c4" stroke="#555555" stroke-width="0.85"/>
<circle cx="444.81" cy="261.67" r="2.35" fill="#c4c4c4" stroke="#555555" stroke-width="0.85"/>
<circle cx="431.48" cy="267.59" r="2.35" fill="#c4c4c4" stroke="#555555" stroke-width="0.85"/>
<circle cx="434.44" cy="266.85" r="2.35" fill="#c4c4c4" stroke="#555555" stroke-width="0.85"/>
<circle cx="437.41" cy="267.59" r="2.35" fill="#c4c4c4" stroke="#555555" stroke-width="0.85"/>
<circle cx="440.37" cy="269.07" r="2.35" fill="#c4c4c4" stroke="#555555" stroke-width="0.85"/>
<circle cx="438.89" cy="270.56" r="2.35" fill="#c4c4c4" stroke="#555555" stroke-width="0.85"/>
<circle cx="442.59" cy="267.59" r="2.35" fill="#c4c4c4" stroke="#555555" stroke-width="0.85"/>
<circle cx="430.00" cy="265.37" r="2.35" fill="#c4c4c4" stroke="#555555" stroke-width="0.85"/>
<circle cx="427.04" cy="264.63" r="2.35" fill="#c4c4c4" stroke="#555555" stroke-width="0.85"/>
<circle cx="444.81" cy="236.48" r="2.35" fill="#c4c4c4" stroke="#555555" stroke-width="0.85"/>
<circle cx="446.30" cy="239.44" r="2.35" fill="#c4c4c4" stroke="#555555" stroke-width="0.85"/>
<circle cx="448.52" cy="237.96" r="2.35" fill="#c4c4c4" stroke="#555555" stroke-width="0.85"/>
<circle cx="450.74" cy="236.48" r="2.35" fill="#c4c4c4" stroke="#555555" stroke-width="0.85"/>
<circle cx="452.22" cy="235.00" r="2.35" fill="#c4c4c4" stroke="#555555" stroke-width="0.85"/>
<circle cx="453.70" cy="237.96" r="2.35" fill="#c4c4c4" stroke="#555555" stroke-width="0.85"/>
<circle cx="456.67" cy="237.96" r="2.35" fill="#c4c4c4" stroke="#555555" stroke-width="0.85"/>
<circle cx="458.89" cy="239.44" r="2.35" fill="#c4c4c4" stroke="#555555" stroke-width="0.85"/>
<circle cx="462.59" cy="241.67" r="2.35" fill="#c4c4c4" stroke="#555555" stroke-width="0.85"/>
<circle cx="465.56" cy="242.41" r="2.35" fill="#c4c4c4" stroke="#555555" stroke-width="0.85"/>
<circle cx="444.81" cy="240.93" r="2.35" fill="#c4c4c4" stroke="#555555" stroke-width="0.85"/>
<circle cx="447.78" cy="242.41" r="2.35" fill="#c4c4c4" stroke="#555555" stroke-width="0.85"/>
<circle cx="450.74" cy="242.41" r="2.35" fill="#c4c4c4" stroke="#555555" stroke-width="0.85"/>
<circle cx="443.33" cy="246.85" r="2.35" fill="#c4c4c4" stroke="#555555" stroke-width="0.85"/>
<circle cx="446.30" cy="246.11" r="2.35" fill="#c4c4c4" stroke="#555555" stroke-width="0.85"/>
<circle cx="449.26" cy="245.37" r="2.35" fill="#c4c4c4" stroke="#555555" stroke-width="0.85"/>
<circle cx="452.22" cy="243.89" r="2.35" fill="#c4c4c4" stroke="#555555" stroke-width="0.85"/>
<circle cx="441.85" cy="252.78" r="2.35" fill="#c4c4c4" stroke="#555555" stroke-width="0.85"/>
<circle cx="444.81" cy="253.52" r="2.35" fill="#c4c4c4" stroke="#555555" stroke-width="0.85"/>
<circle cx="447.78" cy="251.30" r="2.35" fill="#c4c4c4" stroke="#555555" stroke-width="0.85"/>
<circle cx="450.74" cy="252.04" r="2.35" fill="#c4c4c4" stroke="#555555" stroke-width="0.85"/>
<circle cx="453.70" cy="254.26" r="2.35" fill="#c4c4c4" stroke="#555555" stroke-width="0.85"/>
<circle cx="444.81" cy="255.74" r="2.35" fill="#c4c4c4" stroke="#555555" stroke-width="0.85"/>
<circle cx="447.78" cy="256.48" r="2.35" fill="#c4c4c4" stroke="#555555" stroke-width="0.85"/>
<circle cx="450.74" cy="258.70" r="2.35" fill="#c4c4c4" stroke="#555555" stroke-width="0.85"/>
<circle cx="453.70" cy="260.19" r="2.35" fill="#c4c4c4" stroke="#555555" stroke-width="0.85"/>
<circle cx="446.30" cy="260.19" r="2.35" fill="#c4c4c4" stroke="#555555" stroke-width="0.85"/>
<circle cx="447.78" cy="263.89" r="2.35" fill="#c4c4c4" stroke="#555555" stroke-width="0.85"/>
<circle cx="452.22" cy="265.37" r="2.35" fill="#c4c4c4" stroke="#555555" stroke-width="0.85"/>
<circle cx="456.67" cy="264.63" r="2.35" fill="#c4c4c4" stroke="#555555" stroke-width="0.85"/>
<circle cx="458.89" cy="266.11" r="2.35" fill="#c4c4c4" stroke="#555555" stroke-width="0.85"/>
<circle cx="460.37" cy="260.93" r="2.35" fill="#c4c4c4" stroke="#555555" stroke-width="0.85"/>
<circle cx="464.07" cy="257.96" r="2.35" fill="#c4c4c4" stroke="#555555" stroke-width="0.85"/>
<circle cx="465.56" cy="258.70" r="2.35" fill="#c4c4c4" stroke="#555555" stroke-width="0.85"/>
<circle cx="376.50" cy="69.10" r="2.40" fill="#0000d8" stroke="#000040" stroke-width="0.8"/>
<circle cx="371.20" cy="124.70" r="2.40" fill="#0000d8" stroke="#000040" stroke-width="0.8"/>
<circle cx="371.50" cy="136.30" r="2.40" fill="#0000d8" stroke="#000040" stroke-width="0.8"/>
<circle cx="360.80" cy="167.40" r="2.40" fill="#0000d8" stroke="#000040" stroke-width="0.8"/>
<circle cx="374.60" cy="179.20" r="2.40" fill="#0000d8" stroke="#000040" stroke-width="0.8"/>
<circle cx="370.20" cy="182.90" r="2.40" fill="#0000d8" stroke="#000040" stroke-width="0.8"/>
<line x1="535.90" y1="114.80" x2="554.00" y2="132.80" stroke="#333" stroke-width="0.9" />
<circle cx="555.60" cy="134.60" r="2.40" fill="#e00000" stroke="#500000" stroke-width="0.8"/>
<rect x="350.50" y="59.20" width="213.50" height="221.30" fill="none" stroke="#707070" stroke-width="1.2" />
<line x1="348.30" y1="270.75" x2="350.50" y2="270.75" stroke="#555" stroke-width="1.1" />
<text x="345.30" y="275.45" font-size="12.90" font-weight="bold" text-anchor="end" stroke="#1e1e1e" stroke-width="0.28">0</text>
<line x1="348.30" y1="205.70" x2="350.50" y2="205.70" stroke="#555" stroke-width="1.1" />
<text x="345.30" y="210.40" font-size="12.90" font-weight="bold" text-anchor="end" stroke="#1e1e1e" stroke-width="0.28">1</text>
<line x1="348.30" y1="140.65" x2="350.50" y2="140.65" stroke="#555" stroke-width="1.1" />
<text x="345.30" y="145.35" font-size="12.90" font-weight="bold" text-anchor="end" stroke="#1e1e1e" stroke-width="0.28">2</text>
<line x1="348.30" y1="75.60" x2="350.50" y2="75.60" stroke="#555" stroke-width="1.1" />
<text x="345.30" y="80.30" font-size="12.90" font-weight="bold" text-anchor="end" stroke="#1e1e1e" stroke-width="0.28">3</text>
<line x1="362.75" y1="280.50" x2="362.75" y2="282.50" stroke="#555" stroke-width="1.1" />
<text x="360.15" y="295.30" font-size="13.00" font-weight="bold" text-anchor="middle" stroke="#1e1e1e" stroke-width="0.28">–0.5</text>
<line x1="439.25" y1="280.50" x2="439.25" y2="282.50" stroke="#555" stroke-width="1.1" />
<text x="439.25" y="295.30" font-size="13.00" font-weight="bold" text-anchor="middle" stroke="#1e1e1e" stroke-width="0.28">0.0</text>
<line x1="515.75" y1="280.50" x2="515.75" y2="282.50" stroke="#555" stroke-width="1.1" />
<text x="515.75" y="295.30" font-size="13.00" font-weight="bold" text-anchor="middle" stroke="#1e1e1e" stroke-width="0.28">0.5</text>
<text x="375.10" y="321.20" font-size="17.00" font-weight="bold" stroke="#1e1e1e" stroke-width="0.28" textLength="142.80" lengthAdjust="spacing">Fold change (log</text>
<text x="517.80" y="324.90" font-size="11.60" font-weight="bold" stroke="#1e1e1e" stroke-width="0.28">2</text>
<text x="525.80" y="321.20" font-size="17.00" font-weight="bold" stroke="#1e1e1e" stroke-width="0.28">)</text>
<text x="316.60" y="256.80" font-size="17.40" font-weight="bold" stroke="#1e1e1e" stroke-width="0.28" transform="rotate(-90 316.60 256.80)">Significance (–log<tspan font-size="10.5" dy="4.6">10</tspan><tspan dy="-4.6">)</tspan></text>
<text x="351.60" y="78.50" font-size="10.62" font-weight="bold" stroke="#1e1e1e" stroke-width="0.28">-30%</text>
<text x="503.20" y="77.00" font-size="10.48" font-weight="bold" stroke="#1e1e1e" stroke-width="0.28">+30%</text>
<text x="520.70" y="114.40" font-size="11.70" font-weight="bold" stroke="#1e1e1e" stroke-width="0.28">PD-L1</text>
<text x="521.20" y="179.80" font-size="11.00" font-weight="bold" stroke="#1e1e1e" stroke-width="0.28"><tspan font-style="italic">P</tspan> &lt; 0.05</text>
<path d="M664.1,7.9 L664.1,18.2 C664.1,21.2 662.6,22.3 661.0,22.3 L659.4,22.1" fill="none" stroke="#141414" stroke-width="3.5"/>
<line x1="815.40" y1="16.00" x2="815.40" y2="291.20" stroke="#333" stroke-width="1" stroke-dasharray="1.1 1.5"/>
<line x1="835.60" y1="16.00" x2="835.60" y2="291.20" stroke="#333" stroke-width="1" stroke-dasharray="1.1 1.5"/>
<line x1="702.80" y1="234.20" x2="967.00" y2="234.20" stroke="#333" stroke-width="1" stroke-dasharray="1.1 1.5"/>
<line x1="733.70" y1="45.20" x2="727.80" y2="78.50" stroke="#555" stroke-width="0.8" />
<line x1="718.50" y1="65.90" x2="723.80" y2="79.80" stroke="#555" stroke-width="0.8" />
<line x1="747.60" y1="63.70" x2="735.70" y2="92.40" stroke="#555" stroke-width="0.8" />
<line x1="767.40" y1="53.30" x2="753.60" y2="69.90" stroke="#555" stroke-width="0.8" />
<line x1="793.90" y1="52.70" x2="805.80" y2="65.30" stroke="#555" stroke-width="0.8" />
<line x1="772.10" y1="87.70" x2="754.90" y2="91.70" stroke="#555" stroke-width="0.8" />
<line x1="715.20" y1="89.50" x2="715.20" y2="94.00" stroke="#555" stroke-width="0.8" />
<line x1="723.10" y1="108.20" x2="723.10" y2="116.80" stroke="#555" stroke-width="0.8" />
<line x1="760.20" y1="122.80" x2="760.20" y2="138.60" stroke="#555" stroke-width="0.8" />
<line x1="793.20" y1="165.10" x2="754.20" y2="178.30" stroke="#555" stroke-width="0.8" />
<line x1="853.40" y1="148.00" x2="845.00" y2="170.00" stroke="#555" stroke-width="0.8" />
<line x1="932.20" y1="72.20" x2="953.30" y2="84.90" stroke="#555" stroke-width="0.8" />
<line x1="942.10" y1="123.70" x2="955.30" y2="134.40" stroke="#555" stroke-width="0.8" />
<line x1="943.00" y1="172.80" x2="954.10" y2="184.40" stroke="#555" stroke-width="0.8" />
<line x1="908.80" y1="202.90" x2="924.20" y2="203.90" stroke="#555" stroke-width="0.8" />
<circle cx="819.70" cy="116.40" r="2.60" fill="#c8c8c8" stroke="#505050" stroke-width="0.9"/>
<circle cx="835.40" cy="123.70" r="2.60" fill="#c8c8c8" stroke="#505050" stroke-width="0.9"/>
<circle cx="835.80" cy="135.90" r="2.60" fill="#c8c8c8" stroke="#505050" stroke-width="0.9"/>
<circle cx="833.80" cy="150.10" r="2.60" fill="#c8c8c8" stroke="#505050" stroke-width="0.9"/>
<circle cx="834.80" cy="156.10" r="2.60" fill="#c8c8c8" stroke="#505050" stroke-width="0.9"/>
<circle cx="834.20" cy="163.50" r="2.60" fill="#c8c8c8" stroke="#505050" stroke-width="0.9"/>
<circle cx="830.40" cy="174.70" r="2.60" fill="#c8c8c8" stroke="#505050" stroke-width="0.9"/>
<circle cx="833.50" cy="177.20" r="2.60" fill="#c8c8c8" stroke="#505050" stroke-width="0.9"/>
<circle cx="831.70" cy="181.00" r="2.60" fill="#c8c8c8" stroke="#505050" stroke-width="0.9"/>
<circle cx="832.90" cy="184.70" r="2.60" fill="#c8c8c8" stroke="#505050" stroke-width="0.9"/>
<circle cx="818.00" cy="189.00" r="2.60" fill="#c8c8c8" stroke="#505050" stroke-width="0.9"/>
<circle cx="819.90" cy="191.50" r="2.60" fill="#c8c8c8" stroke="#505050" stroke-width="0.9"/>
<circle cx="830.40" cy="194.60" r="2.60" fill="#c8c8c8" stroke="#505050" stroke-width="0.9"/>
<circle cx="833.50" cy="197.80" r="2.60" fill="#c8c8c8" stroke="#505050" stroke-width="0.9"/>
<circle cx="820.40" cy="201.40" r="2.60" fill="#c8c8c8" stroke="#505050" stroke-width="0.9"/>
<circle cx="821.20" cy="206.30" r="2.60" fill="#c8c8c8" stroke="#505050" stroke-width="0.9"/>
<circle cx="819.60" cy="212.90" r="2.60" fill="#c8c8c8" stroke="#505050" stroke-width="0.9"/>
<circle cx="818.00" cy="218.60" r="2.60" fill="#c8c8c8" stroke="#505050" stroke-width="0.9"/>
<circle cx="819.60" cy="223.50" r="2.60" fill="#c8c8c8" stroke="#505050" stroke-width="0.9"/>
<circle cx="818.80" cy="229.20" r="2.60" fill="#c8c8c8" stroke="#505050" stroke-width="0.9"/>
<circle cx="829.40" cy="201.40" r="2.60" fill="#c8c8c8" stroke="#505050" stroke-width="0.9"/>
<circle cx="832.70" cy="203.90" r="2.60" fill="#c8c8c8" stroke="#505050" stroke-width="0.9"/>
<circle cx="830.20" cy="208.00" r="2.60" fill="#c8c8c8" stroke="#505050" stroke-width="0.9"/>
<circle cx="833.50" cy="209.60" r="2.60" fill="#c8c8c8" stroke="#505050" stroke-width="0.9"/>
<circle cx="829.40" cy="212.90" r="2.60" fill="#c8c8c8" stroke="#505050" stroke-width="0.9"/>
<circle cx="831.80" cy="216.10" r="2.60" fill="#c8c8c8" stroke="#505050" stroke-width="0.9"/>
<circle cx="830.20" cy="222.70" r="2.60" fill="#c8c8c8" stroke="#505050" stroke-width="0.9"/>
<circle cx="833.50" cy="225.10" r="2.60" fill="#c8c8c8" stroke="#505050" stroke-width="0.9"/>
<circle cx="830.20" cy="229.20" r="2.60" fill="#c8c8c8" stroke="#505050" stroke-width="0.9"/>
<circle cx="832.70" cy="231.60" r="2.60" fill="#c8c8c8" stroke="#505050" stroke-width="0.9"/>
<circle cx="818.00" cy="235.70" r="2.60" fill="#c8c8c8" stroke="#505050" stroke-width="0.9"/>
<circle cx="822.00" cy="237.30" r="2.60" fill="#c8c8c8" stroke="#505050" stroke-width="0.9"/>
<circle cx="825.30" cy="239.00" r="2.60" fill="#c8c8c8" stroke="#505050" stroke-width="0.9"/>
<circle cx="814.70" cy="240.60" r="2.60" fill="#c8c8c8" stroke="#505050" stroke-width="0.9"/>
<circle cx="812.20" cy="243.90" r="2.60" fill="#c8c8c8" stroke="#505050" stroke-width="0.9"/>
<circle cx="818.00" cy="243.90" r="2.60" fill="#c8c8c8" stroke="#505050" stroke-width="0.9"/>
<circle cx="822.90" cy="244.70" r="2.60" fill="#c8c8c8" stroke="#505050" stroke-width="0.9"/>
<circle cx="829.40" cy="237.30" r="2.60" fill="#c8c8c8" stroke="#505050" stroke-width="0.9"/>
<circle cx="834.30" cy="239.00" r="2.60" fill="#c8c8c8" stroke="#505050" stroke-width="0.9"/>
<circle cx="839.20" cy="240.60" r="2.60" fill="#c8c8c8" stroke="#505050" stroke-width="0.9"/>
<circle cx="844.10" cy="239.80" r="2.60" fill="#c8c8c8" stroke="#505050" stroke-width="0.9"/>
<circle cx="847.30" cy="239.00" r="2.60" fill="#c8c8c8" stroke="#505050" stroke-width="0.9"/>
<circle cx="849.00" cy="243.10" r="2.60" fill="#c8c8c8" stroke="#505050" stroke-width="0.9"/>
<circle cx="844.10" cy="243.90" r="2.60" fill="#c8c8c8" stroke="#505050" stroke-width="0.9"/>
<circle cx="831.00" cy="243.10" r="2.60" fill="#c8c8c8" stroke="#505050" stroke-width="0.9"/>
<circle cx="835.10" cy="243.90" r="2.60" fill="#c8c8c8" stroke="#505050" stroke-width="0.9"/>
<circle cx="838.40" cy="247.10" r="2.60" fill="#c8c8c8" stroke="#505050" stroke-width="0.9"/>
<circle cx="833.50" cy="248.00" r="2.60" fill="#c8c8c8" stroke="#505050" stroke-width="0.9"/>
<circle cx="829.40" cy="246.30" r="2.60" fill="#c8c8c8" stroke="#505050" stroke-width="0.9"/>
<circle cx="824.50" cy="248.00" r="2.60" fill="#c8c8c8" stroke="#505050" stroke-width="0.9"/>
<circle cx="818.80" cy="248.00" r="2.60" fill="#c8c8c8" stroke="#505050" stroke-width="0.9"/>
<circle cx="816.30" cy="251.20" r="2.60" fill="#c8c8c8" stroke="#505050" stroke-width="0.9"/>
<circle cx="809.80" cy="254.50" r="2.60" fill="#c8c8c8" stroke="#505050" stroke-width="0.9"/>
<circle cx="818.80" cy="253.70" r="2.60" fill="#c8c8c8" stroke="#505050" stroke-width="0.9"/>
<circle cx="823.70" cy="252.90" r="2.60" fill="#c8c8c8" stroke="#505050" stroke-width="0.9"/>
<circle cx="828.60" cy="252.00" r="2.60" fill="#c8c8c8" stroke="#505050" stroke-width="0.9"/>
<circle cx="833.50" cy="252.00" r="2.60" fill="#c8c8c8" stroke="#505050" stroke-width="0.9"/>
<circle cx="838.40" cy="254.50" r="2.60" fill="#c8c8c8" stroke="#505050" stroke-width="0.9"/>
<circle cx="840.80" cy="255.30" r="2.60" fill="#c8c8c8" stroke="#505050" stroke-width="0.9"/>
<circle cx="835.10" cy="256.90" r="2.60" fill="#c8c8c8" stroke="#505050" stroke-width="0.9"/>
<circle cx="829.40" cy="256.90" r="2.60" fill="#c8c8c8" stroke="#505050" stroke-width="0.9"/>
<circle cx="824.50" cy="256.90" r="2.60" fill="#c8c8c8" stroke="#505050" stroke-width="0.9"/>
<circle cx="819.60" cy="258.60" r="2.60" fill="#c8c8c8" stroke="#505050" stroke-width="0.9"/>
<circle cx="816.30" cy="261.80" r="2.60" fill="#c8c8c8" stroke="#505050" stroke-width="0.9"/>
<circle cx="821.20" cy="262.70" r="2.60" fill="#c8c8c8" stroke="#505050" stroke-width="0.9"/>
<circle cx="826.10" cy="261.80" r="2.60" fill="#c8c8c8" stroke="#505050" stroke-width="0.9"/>
<circle cx="831.80" cy="260.20" r="2.60" fill="#c8c8c8" stroke="#505050" stroke-width="0.9"/>
<circle cx="835.90" cy="261.80" r="2.60" fill="#c8c8c8" stroke="#505050" stroke-width="0.9"/>
<circle cx="818.80" cy="266.70" r="2.60" fill="#c8c8c8" stroke="#505050" stroke-width="0.9"/>
<circle cx="823.70" cy="266.70" r="2.60" fill="#c8c8c8" stroke="#505050" stroke-width="0.9"/>
<circle cx="828.60" cy="266.70" r="2.60" fill="#c8c8c8" stroke="#505050" stroke-width="0.9"/>
<circle cx="833.50" cy="265.90" r="2.60" fill="#c8c8c8" stroke="#505050" stroke-width="0.9"/>
<circle cx="839.20" cy="267.60" r="2.60" fill="#c8c8c8" stroke="#505050" stroke-width="0.9"/>
<circle cx="836.70" cy="271.60" r="2.60" fill="#c8c8c8" stroke="#505050" stroke-width="0.9"/>
<circle cx="822.00" cy="271.60" r="2.60" fill="#c8c8c8" stroke="#505050" stroke-width="0.9"/>
<circle cx="826.10" cy="272.40" r="2.60" fill="#c8c8c8" stroke="#505050" stroke-width="0.9"/>
<circle cx="830.20" cy="270.80" r="2.60" fill="#c8c8c8" stroke="#505050" stroke-width="0.9"/>
<circle cx="823.70" cy="275.70" r="2.60" fill="#c8c8c8" stroke="#505050" stroke-width="0.9"/>
<circle cx="827.80" cy="274.90" r="2.60" fill="#c8c8c8" stroke="#505050" stroke-width="0.9"/>
<circle cx="826.10" cy="279.00" r="2.60" fill="#c8c8c8" stroke="#505050" stroke-width="0.9"/>
<circle cx="789.00" cy="268.70" r="2.60" fill="#c8c8c8" stroke="#505050" stroke-width="0.9"/>
<circle cx="788.20" cy="28.00" r="2.75" fill="#0000e6" stroke="#000050" stroke-width="0.8"/>
<circle cx="743.00" cy="43.20" r="2.75" fill="#0000e6" stroke="#000050" stroke-width="0.8"/>
<circle cx="806.50" cy="66.20" r="2.75" fill="#0000e6" stroke="#000050" stroke-width="0.8"/>
<circle cx="752.50" cy="71.20" r="2.75" fill="#0000e6" stroke="#000050" stroke-width="0.8"/>
<circle cx="764.50" cy="68.30" r="2.75" fill="#0000e6" stroke="#000050" stroke-width="0.8"/>
<circle cx="770.10" cy="71.20" r="2.75" fill="#0000e6" stroke="#000050" stroke-width="0.8"/>
<circle cx="766.80" cy="72.80" r="2.75" fill="#0000e6" stroke="#000050" stroke-width="0.8"/>
<circle cx="754.20" cy="78.90" r="2.75" fill="#0000e6" stroke="#000050" stroke-width="0.8"/>
<circle cx="757.50" cy="77.50" r="2.75" fill="#0000e6" stroke="#000050" stroke-width="0.8"/>
<circle cx="724.50" cy="80.70" r="2.75" fill="#0000e6" stroke="#000050" stroke-width="0.8"/>
<circle cx="727.80" cy="79.10" r="2.75" fill="#0000e6" stroke="#000050" stroke-width="0.8"/>
<circle cx="738.00" cy="79.40" r="2.75" fill="#0000e6" stroke="#000050" stroke-width="0.8"/>
<circle cx="773.40" cy="82.20" r="2.75" fill="#0000e6" stroke="#000050" stroke-width="0.8"/>
<circle cx="715.20" cy="87.70" r="2.75" fill="#0000e6" stroke="#000050" stroke-width="0.8"/>
<circle cx="734.60" cy="93.30" r="2.75" fill="#0000e6" stroke="#000050" stroke-width="0.8"/>
<circle cx="741.00" cy="94.10" r="2.75" fill="#0000e6" stroke="#000050" stroke-width="0.8"/>
<circle cx="754.20" cy="92.60" r="2.75" fill="#0000e6" stroke="#000050" stroke-width="0.8"/>
<circle cx="784.40" cy="92.00" r="2.75" fill="#0000e6" stroke="#000050" stroke-width="0.8"/>
<circle cx="778.70" cy="95.90" r="2.75" fill="#0000e6" stroke="#000050" stroke-width="0.8"/>
<circle cx="750.90" cy="98.00" r="2.75" fill="#0000e6" stroke="#000050" stroke-width="0.8"/>
<circle cx="771.40" cy="98.60" r="2.75" fill="#0000e6" stroke="#000050" stroke-width="0.8"/>
<circle cx="812.10" cy="98.30" r="2.75" fill="#0000e6" stroke="#000050" stroke-width="0.8"/>
<circle cx="723.10" cy="106.20" r="2.75" fill="#0000e6" stroke="#000050" stroke-width="0.8"/>
<circle cx="741.70" cy="102.90" r="2.75" fill="#0000e6" stroke="#000050" stroke-width="0.8"/>
<circle cx="765.50" cy="104.00" r="2.75" fill="#0000e6" stroke="#000050" stroke-width="0.8"/>
<circle cx="775.40" cy="104.50" r="2.75" fill="#0000e6" stroke="#000050" stroke-width="0.8"/>
<circle cx="779.10" cy="103.20" r="2.75" fill="#0000e6" stroke="#000050" stroke-width="0.8"/>
<circle cx="749.60" cy="107.20" r="2.75" fill="#0000e6" stroke="#000050" stroke-width="0.8"/>
<circle cx="740.30" cy="111.10" r="2.75" fill="#0000e6" stroke="#000050" stroke-width="0.8"/>
<circle cx="746.50" cy="111.50" r="2.75" fill="#0000e6" stroke="#000050" stroke-width="0.8"/>
<circle cx="763.20" cy="112.50" r="2.75" fill="#0000e6" stroke="#000050" stroke-width="0.8"/>
<circle cx="765.50" cy="116.20" r="2.75" fill="#0000e6" stroke="#000050" stroke-width="0.8"/>
<circle cx="768.80" cy="119.10" r="2.75" fill="#0000e6" stroke="#000050" stroke-width="0.8"/>
<circle cx="783.00" cy="116.40" r="2.75" fill="#0000e6" stroke="#000050" stroke-width="0.8"/>
<circle cx="784.60" cy="119.50" r="2.75" fill="#0000e6" stroke="#000050" stroke-width="0.8"/>
<circle cx="786.60" cy="124.10" r="2.75" fill="#0000e6" stroke="#000050" stroke-width="0.8"/>
<circle cx="788.90" cy="124.80" r="2.75" fill="#0000e6" stroke="#000050" stroke-width="0.8"/>
<circle cx="795.20" cy="122.80" r="2.75" fill="#0000e6" stroke="#000050" stroke-width="0.8"/>
<circle cx="799.80" cy="122.50" r="2.75" fill="#0000e6" stroke="#000050" stroke-width="0.8"/>
<circle cx="803.10" cy="117.70" r="2.75" fill="#0000e6" stroke="#000050" stroke-width="0.8"/>
<circle cx="809.10" cy="114.40" r="2.75" fill="#0000e6" stroke="#000050" stroke-width="0.8"/>
<circle cx="739.00" cy="121.40" r="2.75" fill="#0000e6" stroke="#000050" stroke-width="0.8"/>
<circle cx="749.30" cy="122.10" r="2.75" fill="#0000e6" stroke="#000050" stroke-width="0.8"/>
<circle cx="760.20" cy="121.40" r="2.75" fill="#0000e6" stroke="#000050" stroke-width="0.8"/>
<circle cx="752.60" cy="134.40" r="2.75" fill="#0000e6" stroke="#000050" stroke-width="0.8"/>
<circle cx="770.10" cy="133.30" r="2.75" fill="#0000e6" stroke="#000050" stroke-width="0.8"/>
<circle cx="770.10" cy="136.70" r="2.75" fill="#0000e6" stroke="#000050" stroke-width="0.8"/>
<circle cx="774.10" cy="133.30" r="2.75" fill="#0000e6" stroke="#000050" stroke-width="0.8"/>
<circle cx="776.70" cy="135.30" r="2.75" fill="#0000e6" stroke="#000050" stroke-width="0.8"/>
<circle cx="780.00" cy="136.70" r="2.75" fill="#0000e6" stroke="#000050" stroke-width="0.8"/>
<circle cx="782.70" cy="134.40" r="2.75" fill="#0000e6" stroke="#000050" stroke-width="0.8"/>
<circle cx="786.60" cy="133.30" r="2.75" fill="#0000e6" stroke="#000050" stroke-width="0.8"/>
<circle cx="788.60" cy="137.10" r="2.75" fill="#0000e6" stroke="#000050" stroke-width="0.8"/>
<circle cx="791.50" cy="137.10" r="2.75" fill="#0000e6" stroke="#000050" stroke-width="0.8"/>
<circle cx="797.20" cy="134.70" r="2.75" fill="#0000e6" stroke="#000050" stroke-width="0.8"/>
<circle cx="797.20" cy="138.00" r="2.75" fill="#0000e6" stroke="#000050" stroke-width="0.8"/>
<circle cx="781.30" cy="145.50" r="2.75" fill="#0000e6" stroke="#000050" stroke-width="0.8"/>
<circle cx="786.00" cy="143.30" r="2.75" fill="#0000e6" stroke="#000050" stroke-width="0.8"/>
<circle cx="787.70" cy="142.90" r="2.75" fill="#0000e6" stroke="#000050" stroke-width="0.8"/>
<circle cx="799.80" cy="144.60" r="2.75" fill="#0000e6" stroke="#000050" stroke-width="0.8"/>
<circle cx="801.20" cy="149.20" r="2.75" fill="#0000e6" stroke="#000050" stroke-width="0.8"/>
<circle cx="786.60" cy="152.10" r="2.75" fill="#0000e6" stroke="#000050" stroke-width="0.8"/>
<circle cx="782.70" cy="156.50" r="2.75" fill="#0000e6" stroke="#000050" stroke-width="0.8"/>
<circle cx="791.90" cy="156.10" r="2.75" fill="#0000e6" stroke="#000050" stroke-width="0.8"/>
<circle cx="794.60" cy="155.20" r="2.75" fill="#0000e6" stroke="#000050" stroke-width="0.8"/>
<circle cx="789.90" cy="160.50" r="2.75" fill="#0000e6" stroke="#000050" stroke-width="0.8"/>
<circle cx="793.20" cy="164.40" r="2.75" fill="#0000e6" stroke="#000050" stroke-width="0.8"/>
<circle cx="775.40" cy="165.10" r="2.75" fill="#0000e6" stroke="#000050" stroke-width="0.8"/>
<circle cx="801.80" cy="155.80" r="2.75" fill="#0000e6" stroke="#000050" stroke-width="0.8"/>
<circle cx="804.50" cy="157.80" r="2.75" fill="#0000e6" stroke="#000050" stroke-width="0.8"/>
<circle cx="807.80" cy="158.50" r="2.75" fill="#0000e6" stroke="#000050" stroke-width="0.8"/>
<circle cx="811.10" cy="159.10" r="2.75" fill="#0000e6" stroke="#000050" stroke-width="0.8"/>
<circle cx="801.80" cy="160.50" r="2.75" fill="#0000e6" stroke="#000050" stroke-width="0.8"/>
<circle cx="805.80" cy="163.10" r="2.75" fill="#0000e6" stroke="#000050" stroke-width="0.8"/>
<circle cx="811.70" cy="167.10" r="2.75" fill="#0000e6" stroke="#000050" stroke-width="0.8"/>
<circle cx="802.50" cy="168.40" r="2.75" fill="#0000e6" stroke="#000050" stroke-width="0.8"/>
<circle cx="811.10" cy="171.00" r="2.75" fill="#0000e6" stroke="#000050" stroke-width="0.8"/>
<circle cx="809.80" cy="173.00" r="2.75" fill="#0000e6" stroke="#000050" stroke-width="0.8"/>
<circle cx="807.10" cy="174.30" r="2.75" fill="#0000e6" stroke="#000050" stroke-width="0.8"/>
<circle cx="791.20" cy="175.70" r="2.75" fill="#0000e6" stroke="#000050" stroke-width="0.8"/>
<circle cx="800.50" cy="177.00" r="2.75" fill="#0000e6" stroke="#000050" stroke-width="0.8"/>
<circle cx="813.70" cy="177.70" r="2.75" fill="#0000e6" stroke="#000050" stroke-width="0.8"/>
<circle cx="807.10" cy="177.70" r="2.75" fill="#0000e6" stroke="#000050" stroke-width="0.8"/>
<circle cx="809.50" cy="181.60" r="2.75" fill="#0000e6" stroke="#000050" stroke-width="0.8"/>
<circle cx="805.80" cy="185.30" r="2.75" fill="#0000e6" stroke="#000050" stroke-width="0.8"/>
<circle cx="807.10" cy="188.90" r="2.75" fill="#0000e6" stroke="#000050" stroke-width="0.8"/>
<circle cx="805.80" cy="192.90" r="2.75" fill="#0000e6" stroke="#000050" stroke-width="0.8"/>
<circle cx="798.50" cy="190.20" r="2.75" fill="#0000e6" stroke="#000050" stroke-width="0.8"/>
<circle cx="800.80" cy="194.80" r="2.75" fill="#0000e6" stroke="#000050" stroke-width="0.8"/>
<circle cx="787.50" cy="189.80" r="2.75" fill="#0000e6" stroke="#000050" stroke-width="0.8"/>
<circle cx="793.90" cy="195.90" r="2.75" fill="#0000e6" stroke="#000050" stroke-width="0.8"/>
<circle cx="785.30" cy="205.20" r="2.75" fill="#0000e6" stroke="#000050" stroke-width="0.8"/>
<circle cx="790.90" cy="203.80" r="2.75" fill="#0000e6" stroke="#000050" stroke-width="0.8"/>
<circle cx="799.80" cy="202.80" r="2.75" fill="#0000e6" stroke="#000050" stroke-width="0.8"/>
<circle cx="803.80" cy="203.40" r="2.75" fill="#0000e6" stroke="#000050" stroke-width="0.8"/>
<circle cx="811.30" cy="199.10" r="2.75" fill="#0000e6" stroke="#000050" stroke-width="0.8"/>
<circle cx="815.00" cy="202.50" r="2.75" fill="#0000e6" stroke="#000050" stroke-width="0.8"/>
<circle cx="809.80" cy="204.80" r="2.75" fill="#0000e6" stroke="#000050" stroke-width="0.8"/>
<circle cx="813.10" cy="204.40" r="2.75" fill="#0000e6" stroke="#000050" stroke-width="0.8"/>
<circle cx="801.80" cy="209.40" r="2.75" fill="#0000e6" stroke="#000050" stroke-width="0.8"/>
<circle cx="805.80" cy="210.00" r="2.75" fill="#0000e6" stroke="#000050" stroke-width="0.8"/>
<circle cx="808.40" cy="209.40" r="2.75" fill="#0000e6" stroke="#000050" stroke-width="0.8"/>
<circle cx="807.80" cy="211.40" r="2.75" fill="#0000e6" stroke="#000050" stroke-width="0.8"/>
<circle cx="814.40" cy="212.70" r="2.75" fill="#0000e6" stroke="#000050" stroke-width="0.8"/>
<circle cx="812.40" cy="216.70" r="2.75" fill="#0000e6" stroke="#000050" stroke-width="0.8"/>
<circle cx="811.10" cy="217.30" r="2.75" fill="#0000e6" stroke="#000050" stroke-width="0.8"/>
<circle cx="809.50" cy="221.00" r="2.75" fill="#0000e6" stroke="#000050" stroke-width="0.8"/>
<circle cx="810.40" cy="225.90" r="2.75" fill="#0000e6" stroke="#000050" stroke-width="0.8"/>
<circle cx="814.40" cy="229.20" r="2.75" fill="#0000e6" stroke="#000050" stroke-width="0.8"/>
<circle cx="805.10" cy="233.20" r="2.75" fill="#0000e6" stroke="#000050" stroke-width="0.8"/>
<circle cx="862.50" cy="70.90" r="2.75" fill="#f00000" stroke="#600000" stroke-width="0.8"/>
<circle cx="868.70" cy="79.10" r="2.75" fill="#f00000" stroke="#600000" stroke-width="0.8"/>
<circle cx="877.40" cy="100.00" r="2.75" fill="#f00000" stroke="#600000" stroke-width="0.8"/>
<circle cx="892.40" cy="97.80" r="2.75" fill="#f00000" stroke="#600000" stroke-width="0.8"/>
<circle cx="889.10" cy="115.50" r="2.75" fill="#f00000" stroke="#600000" stroke-width="0.8"/>
<circle cx="874.90" cy="122.70" r="2.75" fill="#f00000" stroke="#600000" stroke-width="0.8"/>
<circle cx="875.40" cy="125.00" r="2.75" fill="#f00000" stroke="#600000" stroke-width="0.8"/>
<circle cx="901.60" cy="138.40" r="2.75" fill="#f00000" stroke="#600000" stroke-width="0.8"/>
<circle cx="917.20" cy="139.60" r="2.75" fill="#f00000" stroke="#600000" stroke-width="0.8"/>
<circle cx="924.70" cy="149.30" r="2.75" fill="#f00000" stroke="#600000" stroke-width="0.8"/>
<circle cx="953.30" cy="84.90" r="2.75" fill="#f00000" stroke="#600000" stroke-width="0.8"/>
<circle cx="955.30" cy="134.40" r="2.75" fill="#f00000" stroke="#600000" stroke-width="0.8"/>
<circle cx="870.70" cy="157.30" r="2.75" fill="#f00000" stroke="#600000" stroke-width="0.8"/>
<circle cx="878.70" cy="155.50" r="2.75" fill="#f00000" stroke="#600000" stroke-width="0.8"/>
<circle cx="846.20" cy="128.50" r="2.75" fill="#f00000" stroke="#600000" stroke-width="0.8"/>
<circle cx="843.50" cy="134.70" r="2.75" fill="#f00000" stroke="#600000" stroke-width="0.8"/>
<circle cx="854.90" cy="132.80" r="2.75" fill="#f00000" stroke="#600000" stroke-width="0.8"/>
<circle cx="839.50" cy="142.10" r="2.75" fill="#f00000" stroke="#600000" stroke-width="0.8"/>
<circle cx="843.70" cy="146.10" r="2.75" fill="#f00000" stroke="#600000" stroke-width="0.8"/>
<circle cx="839.50" cy="149.90" r="2.75" fill="#f00000" stroke="#600000" stroke-width="0.8"/>
<circle cx="844.70" cy="152.10" r="2.75" fill="#f00000" stroke="#600000" stroke-width="0.8"/>
<circle cx="839.80" cy="155.50" r="2.75" fill="#f00000" stroke="#600000" stroke-width="0.8"/>
<circle cx="855.90" cy="156.10" r="2.75" fill="#f00000" stroke="#600000" stroke-width="0.8"/>
<circle cx="843.50" cy="160.40" r="2.75" fill="#f00000" stroke="#600000" stroke-width="0.8"/>
<circle cx="839.10" cy="165.40" r="2.75" fill="#f00000" stroke="#600000" stroke-width="0.8"/>
<circle cx="854.70" cy="163.80" r="2.75" fill="#f00000" stroke="#600000" stroke-width="0.8"/>
<circle cx="847.00" cy="167.30" r="2.75" fill="#f00000" stroke="#600000" stroke-width="0.8"/>
<circle cx="855.70" cy="170.10" r="2.75" fill="#f00000" stroke="#600000" stroke-width="0.8"/>
<circle cx="841.00" cy="173.50" r="2.75" fill="#f00000" stroke="#600000" stroke-width="0.8"/>
<circle cx="844.10" cy="173.50" r="2.75" fill="#f00000" stroke="#600000" stroke-width="0.8"/>
<circle cx="844.70" cy="176.60" r="2.75" fill="#f00000" stroke="#600000" stroke-width="0.8"/>
<circle cx="849.50" cy="177.00" r="2.75" fill="#f00000" stroke="#600000" stroke-width="0.8"/>
<circle cx="861.50" cy="174.70" r="2.75" fill="#f00000" stroke="#600000" stroke-width="0.8"/>
<circle cx="858.20" cy="177.20" r="2.75" fill="#f00000" stroke="#600000" stroke-width="0.8"/>
<circle cx="859.70" cy="179.70" r="2.75" fill="#f00000" stroke="#600000" stroke-width="0.8"/>
<circle cx="846.60" cy="184.10" r="2.75" fill="#f00000" stroke="#600000" stroke-width="0.8"/>
<circle cx="851.00" cy="184.10" r="2.75" fill="#f00000" stroke="#600000" stroke-width="0.8"/>
<circle cx="854.70" cy="187.20" r="2.75" fill="#f00000" stroke="#600000" stroke-width="0.8"/>
<circle cx="860.90" cy="186.60" r="2.75" fill="#f00000" stroke="#600000" stroke-width="0.8"/>
<circle cx="839.80" cy="185.90" r="2.75" fill="#f00000" stroke="#600000" stroke-width="0.8"/>
<circle cx="842.30" cy="188.40" r="2.75" fill="#f00000" stroke="#600000" stroke-width="0.8"/>
<circle cx="837.90" cy="190.30" r="2.75" fill="#f00000" stroke="#600000" stroke-width="0.8"/>
<circle cx="843.50" cy="192.20" r="2.75" fill="#f00000" stroke="#600000" stroke-width="0.8"/>
<circle cx="852.20" cy="192.80" r="2.75" fill="#f00000" stroke="#600000" stroke-width="0.8"/>
<circle cx="838.50" cy="194.60" r="2.75" fill="#f00000" stroke="#600000" stroke-width="0.8"/>
<circle cx="841.00" cy="196.50" r="2.75" fill="#f00000" stroke="#600000" stroke-width="0.8"/>
<circle cx="844.70" cy="197.80" r="2.75" fill="#f00000" stroke="#600000" stroke-width="0.8"/>
<circle cx="856.60" cy="196.50" r="2.75" fill="#f00000" stroke="#600000" stroke-width="0.8"/>
<circle cx="875.40" cy="159.90" r="2.75" fill="#f00000" stroke="#600000" stroke-width="0.8"/>
<circle cx="869.40" cy="178.40" r="2.75" fill="#f00000" stroke="#600000" stroke-width="0.8"/>
<circle cx="873.20" cy="173.10" r="2.75" fill="#f00000" stroke="#600000" stroke-width="0.8"/>
<circle cx="883.10" cy="177.40" r="2.75" fill="#f00000" stroke="#600000" stroke-width="0.8"/>
<circle cx="890.80" cy="174.80" r="2.75" fill="#f00000" stroke="#600000" stroke-width="0.8"/>
<circle cx="895.90" cy="171.10" r="2.75" fill="#f00000" stroke="#600000" stroke-width="0.8"/>
<circle cx="870.80" cy="189.90" r="2.75" fill="#f00000" stroke="#600000" stroke-width="0.8"/>
<circle cx="885.70" cy="190.20" r="2.75" fill="#f00000" stroke="#600000" stroke-width="0.8"/>
<circle cx="882.20" cy="197.10" r="2.75" fill="#f00000" stroke="#600000" stroke-width="0.8"/>
<circle cx="887.40" cy="204.40" r="2.75" fill="#f00000" stroke="#600000" stroke-width="0.8"/>
<circle cx="895.90" cy="203.20" r="2.75" fill="#f00000" stroke="#600000" stroke-width="0.8"/>
<circle cx="907.60" cy="202.70" r="2.75" fill="#f00000" stroke="#600000" stroke-width="0.8"/>
<circle cx="865.10" cy="211.80" r="2.75" fill="#f00000" stroke="#600000" stroke-width="0.8"/>
<circle cx="892.20" cy="214.20" r="2.75" fill="#f00000" stroke="#600000" stroke-width="0.8"/>
<circle cx="870.60" cy="224.60" r="2.75" fill="#f00000" stroke="#600000" stroke-width="0.8"/>
<circle cx="895.10" cy="232.70" r="2.75" fill="#f00000" stroke="#600000" stroke-width="0.8"/>
<circle cx="954.10" cy="184.70" r="2.75" fill="#f00000" stroke="#600000" stroke-width="0.8"/>
<circle cx="839.20" cy="200.60" r="2.75" fill="#f00000" stroke="#600000" stroke-width="0.8"/>
<circle cx="842.80" cy="200.60" r="2.75" fill="#f00000" stroke="#600000" stroke-width="0.8"/>
<circle cx="847.30" cy="202.20" r="2.75" fill="#f00000" stroke="#600000" stroke-width="0.8"/>
<circle cx="849.00" cy="205.50" r="2.75" fill="#f00000" stroke="#600000" stroke-width="0.8"/>
<circle cx="838.40" cy="206.30" r="2.75" fill="#f00000" stroke="#600000" stroke-width="0.8"/>
<circle cx="841.60" cy="208.00" r="2.75" fill="#f00000" stroke="#600000" stroke-width="0.8"/>
<circle cx="837.60" cy="211.20" r="2.75" fill="#f00000" stroke="#600000" stroke-width="0.8"/>
<circle cx="842.40" cy="212.00" r="2.75" fill="#f00000" stroke="#600000" stroke-width="0.8"/>
<circle cx="844.10" cy="215.30" r="2.75" fill="#f00000" stroke="#600000" stroke-width="0.8"/>
<circle cx="838.40" cy="216.10" r="2.75" fill="#f00000" stroke="#600000" stroke-width="0.8"/>
<circle cx="841.60" cy="218.60" r="2.75" fill="#f00000" stroke="#600000" stroke-width="0.8"/>
<circle cx="837.60" cy="221.80" r="2.75" fill="#f00000" stroke="#600000" stroke-width="0.8"/>
<circle cx="842.40" cy="222.70" r="2.75" fill="#f00000" stroke="#600000" stroke-width="0.8"/>
<circle cx="839.20" cy="226.70" r="2.75" fill="#f00000" stroke="#600000" stroke-width="0.8"/>
<circle cx="843.30" cy="228.40" r="2.75" fill="#f00000" stroke="#600000" stroke-width="0.8"/>
<circle cx="845.70" cy="229.20" r="2.75" fill="#f00000" stroke="#600000" stroke-width="0.8"/>
<circle cx="839.20" cy="230.80" r="2.75" fill="#f00000" stroke="#600000" stroke-width="0.8"/>
<circle cx="842.40" cy="232.80" r="2.75" fill="#f00000" stroke="#600000" stroke-width="0.8"/>
<circle cx="838.40" cy="233.30" r="2.75" fill="#f00000" stroke="#600000" stroke-width="0.8"/>
<circle cx="844.40" cy="232.80" r="2.75" fill="#f00000" stroke="#600000" stroke-width="0.8"/>
<circle cx="857.10" cy="206.30" r="2.75" fill="#f00000" stroke="#600000" stroke-width="0.8"/>
<circle cx="850.30" cy="209.60" r="2.75" fill="#f00000" stroke="#600000" stroke-width="0.8"/>
<circle cx="856.30" cy="226.20" r="2.75" fill="#f00000" stroke="#600000" stroke-width="0.8"/>
<rect x="702.80" y="16.00" width="264.20" height="275.20" fill="none" stroke="#7a7a7a" stroke-width="1.2" />
<text x="697.40" y="282.00" font-size="9.00" font-weight="normal" text-anchor="middle" fill="#444">0</text>
<text x="697.40" y="213.30" font-size="9.00" font-weight="normal" text-anchor="middle" fill="#444">2</text>
<text x="697.40" y="144.60" font-size="9.00" font-weight="normal" text-anchor="middle" fill="#444">4</text>
<text x="697.40" y="75.90" font-size="9.00" font-weight="normal" text-anchor="middle" fill="#444">6</text>
<text x="756.40" y="302.80" font-size="9.00" font-weight="normal" text-anchor="middle" fill="#444">−2</text>
<text x="825.70" y="302.80" font-size="9.00" font-weight="normal" text-anchor="middle" fill="#444">0</text>
<text x="894.40" y="302.80" font-size="9.00" font-weight="normal" text-anchor="middle" fill="#444">2</text>
<text x="963.10" y="302.80" font-size="9.00" font-weight="normal" text-anchor="middle" fill="#444">4</text>
<text x="770.10" y="325.50" font-size="15.30" font-weight="bold" stroke="#1e1e1e" stroke-width="0.28" textLength="121.20" lengthAdjust="spacing">Fold change (log</text>
<text x="891.80" y="330.40" font-size="10.20" font-weight="bold" stroke="#1e1e1e" stroke-width="0.28">2</text>
<text x="897.70" y="325.50" font-size="15.30" font-weight="bold" stroke="#1e1e1e" stroke-width="0.28">)</text>
<text x="674.00" y="218.60" font-size="15.30" font-weight="bold" stroke="#1e1e1e" stroke-width="0.28" transform="rotate(-90 674.00 218.60)">Significance (–log<tspan font-size="9.4" dy="5.2">10</tspan><tspan dy="-5.2">)</tspan></text>
<text x="782.30" y="41.40" font-size="11.91" font-weight="bold" stroke="#1e1e1e" stroke-width="0.28">-30%</text>
<text x="839.40" y="41.40" font-size="11.99" font-weight="bold" stroke="#1e1e1e" stroke-width="0.28">+30%</text>
<text x="722.80" y="44.40" font-size="6.98" font-weight="bold" fill="#2a2a2a" stroke="#2a2a2a" stroke-width="0.28">VAV1</text>
<text x="704.30" y="65.00" font-size="7.14" font-weight="bold" fill="#2a2a2a" stroke="#2a2a2a" stroke-width="0.28">PDCD4</text>
<text x="739.40" y="62.90" font-size="7.21" font-weight="bold" fill="#2a2a2a" stroke="#2a2a2a" stroke-width="0.28">ATRX</text>
<text x="760.80" y="52.00" font-size="7.20" font-weight="bold" fill="#2a2a2a" stroke="#2a2a2a" stroke-width="0.28">RSK1</text>
<text x="785.00" y="53.00" font-size="7.35" font-weight="bold" fill="#2a2a2a" stroke="#2a2a2a" stroke-width="0.28">ZAP</text>
<text x="772.40" y="88.70" font-size="7.30" font-weight="bold" fill="#2a2a2a" stroke="#2a2a2a" stroke-width="0.28">p-ACC</text>
<text x="705.00" y="101.20" font-size="7.33" font-weight="bold" fill="#2a2a2a" stroke="#2a2a2a" stroke-width="0.28">PKC-β</text>
<text x="712.70" y="123.80" font-size="7.19" font-weight="bold" fill="#2a2a2a" stroke="#2a2a2a" stroke-width="0.28">STAT5</text>
<text x="750.30" y="146.20" font-size="7.32" font-weight="bold" fill="#2a2a2a" stroke="#2a2a2a" stroke-width="0.28">STAT3</text>
<text x="706.00" y="184.00" font-size="7.20" font-weight="bold" fill="#2a2a2a" stroke="#2a2a2a" stroke-width="0.28">Glucocorticoid Receptor</text>
<text x="849.40" y="145.90" font-size="7.11" font-weight="bold" fill="#2a2a2a" stroke="#2a2a2a" stroke-width="0.28">PD-1</text>
<text x="914.00" y="69.20" font-size="7.42" font-weight="bold" fill="#2a2a2a" stroke="#2a2a2a" stroke-width="0.28">PI3K p110α</text>
<text x="932.70" y="122.00" font-size="7.55" font-weight="bold" fill="#2a2a2a" stroke="#2a2a2a" stroke-width="0.28">MIF</text>
<text x="929.00" y="171.00" font-size="7.17" font-weight="bold" fill="#2a2a2a" stroke="#2a2a2a" stroke-width="0.28">14-3-3-β</text>
<text x="925.10" y="205.30" font-size="7.16" font-weight="bold" fill="#2a2a2a" stroke="#2a2a2a" stroke-width="0.28">PD-L1</text>
<text x="920.30" y="229.70" font-size="10.60" font-weight="bold" stroke="#1e1e1e" stroke-width="0.28"><tspan font-style="italic">P</tspan> &lt; 0.05</text>
<text x="413.30" y="364.40" font-size="17.51" font-weight="bold" stroke="#1e1e1e" stroke-width="0.28">PD-L1</text>
<text x="404.60" y="382.90" font-size="13.80" font-weight="bold" stroke="#1e1e1e" stroke-width="0.28"><tspan font-style="italic">P</tspan> = 0.0132</text>
<rect x="386.00" y="542.35" width="33.00" height="22.85" fill="none" stroke="#2a2ad0" stroke-width="1.6" />
<rect x="459.40" y="470.37" width="32.90" height="94.83" fill="none" stroke="#e83030" stroke-width="1.6" />
<line x1="402.50" y1="523.20" x2="402.50" y2="561.90" stroke="#2a2ad0" stroke-width="1.3" />
<line x1="394.50" y1="523.20" x2="410.50" y2="523.20" stroke="#2a2ad0" stroke-width="1.5" />
<line x1="394.50" y1="561.90" x2="410.50" y2="561.90" stroke="#2a2ad0" stroke-width="1.5" />
<line x1="475.80" y1="435.30" x2="475.80" y2="507.50" stroke="#e83030" stroke-width="1.3" />
<line x1="467.80" y1="435.30" x2="483.80" y2="435.30" stroke="#e83030" stroke-width="1.5" />
<line x1="467.80" y1="507.50" x2="483.80" y2="507.50" stroke="#e83030" stroke-width="1.5" />
<circle cx="402.50" cy="519.20" r="2.30" fill="#fff" stroke="#2a2ad0" stroke-width="1.3"/>
<circle cx="402.50" cy="535.40" r="2.30" fill="#fff" stroke="#2a2ad0" stroke-width="1.3"/>
<circle cx="402.50" cy="551.90" r="2.30" fill="#fff" stroke="#2a2ad0" stroke-width="1.3"/>
<circle cx="402.50" cy="563.50" r="2.30" fill="#fff" stroke="#2a2ad0" stroke-width="1.3"/>
<circle cx="475.60" cy="424.90" r="2.30" fill="#fff" stroke="#e83030" stroke-width="1.3"/>
<circle cx="475.90" cy="461.40" r="2.30" fill="#fff" stroke="#e83030" stroke-width="1.3"/>
<circle cx="472.20" cy="501.80" r="2.30" fill="#fff" stroke="#e83030" stroke-width="1.3"/>
<circle cx="479.90" cy="498.40" r="2.30" fill="#fff" stroke="#e83030" stroke-width="1.3"/>
<polyline points="401.3,511.2 401.3,387.2 475.4,387.2 475.4,415.1" fill="none" stroke="#111" stroke-width="1.5"/>
<line x1="370.10" y1="382.00" x2="370.10" y2="565.90" stroke="#6a6a6a" stroke-width="1.6" />
<line x1="369.30" y1="565.30" x2="509.20" y2="565.30" stroke="#6a6a6a" stroke-width="1.6" />
<line x1="367.40" y1="565.20" x2="370.10" y2="565.20" stroke="#6a6a6a" stroke-width="1.3" />
<text x="365.00" y="570.00" font-size="13.30" font-weight="bold" text-anchor="end" stroke="#1e1e1e" stroke-width="0.28">0</text>
<line x1="367.40" y1="519.50" x2="370.10" y2="519.50" stroke="#6a6a6a" stroke-width="1.3" />
<text x="365.00" y="524.30" font-size="13.30" font-weight="bold" text-anchor="end" stroke="#1e1e1e" stroke-width="0.28">2</text>
<line x1="367.40" y1="473.80" x2="370.10" y2="473.80" stroke="#6a6a6a" stroke-width="1.3" />
<text x="365.00" y="478.60" font-size="13.30" font-weight="bold" text-anchor="end" stroke="#1e1e1e" stroke-width="0.28">4</text>
<line x1="367.40" y1="428.10" x2="370.10" y2="428.10" stroke="#6a6a6a" stroke-width="1.3" />
<text x="365.00" y="432.90" font-size="13.30" font-weight="bold" text-anchor="end" stroke="#1e1e1e" stroke-width="0.28">6</text>
<line x1="367.40" y1="382.40" x2="370.10" y2="382.40" stroke="#6a6a6a" stroke-width="1.3" />
<text x="365.00" y="387.20" font-size="13.30" font-weight="bold" text-anchor="end" stroke="#1e1e1e" stroke-width="0.28">8</text>
<line x1="402.50" y1="565.30" x2="402.50" y2="568.80" stroke="#6a6a6a" stroke-width="1.3" />
<line x1="475.80" y1="565.30" x2="475.80" y2="568.80" stroke="#6a6a6a" stroke-width="1.3" />
<circle cx="400.50" cy="585.70" r="5.00" fill="#0000f0" stroke="none" stroke-width="1"/>
<circle cx="476.80" cy="585.70" r="5.00" fill="#f00000" stroke="none" stroke-width="1"/>
<circle cx="378.30" cy="605.10" r="5.40" fill="#0000f0" stroke="none" stroke-width="1"/>
<text x="388.80" y="610.20" font-size="17.01" font-weight="bold" stroke="#1e1e1e" stroke-width="0.28">MigR T</text>
<circle cx="378.30" cy="626.40" r="5.40" fill="#f00000" stroke="none" stroke-width="1"/>
<text x="388.80" y="633.00" font-size="17.43" font-weight="bold" stroke="#1e1e1e" stroke-width="0.28">Meso-CAR T</text>
<text x="343.40" y="576.20" font-size="17.70" font-weight="bold" stroke="#1e1e1e" stroke-width="0.28" transform="rotate(-90 343.40 576.20)">Relative expression level</text>
<rect x="925.00" y="385.47" width="15.70" height="160.32" fill="none" stroke="#2424d8" stroke-width="1.6" />
<rect x="959.80" y="487.50" width="16.40" height="58.30" fill="none" stroke="#9030c0" stroke-width="1.6" />
<rect x="996.00" y="503.53" width="16.10" height="42.27" fill="none" stroke="#ff7a20" stroke-width="1.6" />
<rect x="1031.00" y="425.41" width="17.00" height="120.39" fill="none" stroke="#f02020" stroke-width="1.6" />
<line x1="932.80" y1="382.50" x2="932.80" y2="387.50" stroke="#2424d8" stroke-width="1.3" />
<line x1="927.80" y1="382.50" x2="937.80" y2="382.50" stroke="#2424d8" stroke-width="1.4" />
<line x1="927.80" y1="387.50" x2="937.80" y2="387.50" stroke="#2424d8" stroke-width="1.4" />
<line x1="968.00" y1="481.20" x2="968.00" y2="492.40" stroke="#9030c0" stroke-width="1.3" />
<line x1="964.50" y1="481.20" x2="971.50" y2="481.20" stroke="#9030c0" stroke-width="1.4" />
<line x1="964.50" y1="492.40" x2="971.50" y2="492.40" stroke="#9030c0" stroke-width="1.4" />
<line x1="1003.60" y1="486.20" x2="1003.60" y2="522.30" stroke="#ff7a20" stroke-width="1.3" />
<line x1="999.80" y1="486.20" x2="1007.40" y2="486.20" stroke="#ff7a20" stroke-width="1.4" />
<line x1="999.80" y1="522.30" x2="1007.40" y2="522.30" stroke="#ff7a20" stroke-width="1.4" />
<line x1="1039.50" y1="412.50" x2="1039.50" y2="438.00" stroke="#f02020" stroke-width="1.3" />
<line x1="1033.50" y1="412.50" x2="1045.50" y2="412.50" stroke="#f02020" stroke-width="1.4" />
<line x1="1033.50" y1="438.00" x2="1045.50" y2="438.00" stroke="#f02020" stroke-width="1.4" />
<circle cx="929.20" cy="388.90" r="2.20" fill="#fff" stroke="#2424d8" stroke-width="1.2"/>
<circle cx="932.30" cy="381.50" r="2.20" fill="#fff" stroke="#2424d8" stroke-width="1.2"/>
<circle cx="935.80" cy="385.10" r="2.20" fill="#fff" stroke="#2424d8" stroke-width="1.2"/>
<circle cx="968.00" cy="479.70" r="2.20" fill="#fff" stroke="#9030c0" stroke-width="1.2"/>
<circle cx="964.70" cy="491.80" r="2.20" fill="#fff" stroke="#9030c0" stroke-width="1.2"/>
<circle cx="971.20" cy="491.80" r="2.20" fill="#fff" stroke="#9030c0" stroke-width="1.2"/>
<circle cx="1000.90" cy="491.50" r="2.20" fill="#fff" stroke="#ff7a20" stroke-width="1.2"/>
<circle cx="1006.30" cy="495.60" r="2.20" fill="#fff" stroke="#ff7a20" stroke-width="1.2"/>
<circle cx="1003.60" cy="524.60" r="2.20" fill="#fff" stroke="#ff7a20" stroke-width="1.2"/>
<circle cx="1035.00" cy="415.90" r="2.20" fill="#fff" stroke="#f02020" stroke-width="1.2"/>
<circle cx="1042.90" cy="420.30" r="2.20" fill="#fff" stroke="#f02020" stroke-width="1.2"/>
<circle cx="1038.50" cy="439.80" r="2.20" fill="#fff" stroke="#f02020" stroke-width="1.2"/>
<polyline points="932.5,375.9 932.5,362.2 969.4,362.2 969.4,476.8" fill="none" stroke="#111" stroke-width="1.4"/>
<polyline points="1003.6,481.9 1003.6,372.5 1038.5,372.5 1038.5,410.0" fill="none" stroke="#111" stroke-width="1.4"/>
<text x="924.60" y="357.80" font-size="11.20" font-weight="bold" stroke="#1e1e1e" stroke-width="0.28"><tspan font-style="italic">P</tspan> &lt; 0.0001</text>
<text x="996.40" y="368.00" font-size="11.20" font-weight="bold" stroke="#1e1e1e" stroke-width="0.28"><tspan font-style="italic">P</tspan> = 0.0002</text>
<line x1="916.60" y1="369.80" x2="916.60" y2="546.50" stroke="#6a6a6a" stroke-width="1.6" />
<line x1="914.00" y1="546.00" x2="1055.60" y2="546.00" stroke="#6a6a6a" stroke-width="1.6" />
<line x1="913.60" y1="545.80" x2="916.60" y2="545.80" stroke="#6a6a6a" stroke-width="1.3" />
<text x="912.00" y="549.40" font-size="11.60" font-weight="bold" text-anchor="end" stroke="#1e1e1e" stroke-width="0.28">0</text>
<line x1="913.60" y1="487.50" x2="916.60" y2="487.50" stroke="#6a6a6a" stroke-width="1.3" />
<text x="912.00" y="491.10" font-size="11.60" font-weight="bold" text-anchor="end" stroke="#1e1e1e" stroke-width="0.28">20</text>
<line x1="913.60" y1="429.20" x2="916.60" y2="429.20" stroke="#6a6a6a" stroke-width="1.3" />
<text x="912.00" y="432.80" font-size="11.60" font-weight="bold" text-anchor="end" stroke="#1e1e1e" stroke-width="0.28">40</text>
<line x1="913.60" y1="370.90" x2="916.60" y2="370.90" stroke="#6a6a6a" stroke-width="1.3" />
<text x="912.00" y="374.50" font-size="11.60" font-weight="bold" text-anchor="end" stroke="#1e1e1e" stroke-width="0.28">60</text>
<line x1="932.30" y1="546.00" x2="932.30" y2="549.50" stroke="#6a6a6a" stroke-width="1.2" />
<line x1="968.00" y1="546.00" x2="968.00" y2="549.50" stroke="#6a6a6a" stroke-width="1.2" />
<line x1="1003.60" y1="546.00" x2="1003.60" y2="549.50" stroke="#6a6a6a" stroke-width="1.2" />
<line x1="1039.30" y1="546.00" x2="1039.30" y2="549.50" stroke="#6a6a6a" stroke-width="1.2" />
<circle cx="931.80" cy="554.50" r="3.70" fill="#0000f0" stroke="none" stroke-width="1"/>
<circle cx="967.70" cy="554.50" r="3.70" fill="#e000e0" stroke="none" stroke-width="1"/>
<circle cx="1003.60" cy="554.50" r="3.70" fill="#ff7010" stroke="none" stroke-width="1"/>
<circle cx="1038.50" cy="554.50" r="3.70" fill="#f00000" stroke="none" stroke-width="1"/>
<text x="888.40" y="510.60" font-size="14.70" font-weight="bold" stroke="#1e1e1e" stroke-width="0.28" transform="rotate(-90 888.40 510.60)">Cytotoxicity (%)</text>
<circle cx="881.00" cy="569.10" r="3.70" fill="#0000f0" stroke="none" stroke-width="1"/>
<circle cx="881.00" cy="583.80" r="3.70" fill="#e000e0" stroke="none" stroke-width="1"/>
<circle cx="881.00" cy="598.70" r="3.70" fill="#ff7010" stroke="none" stroke-width="1"/>
<circle cx="881.00" cy="613.30" r="3.70" fill="#f00000" stroke="none" stroke-width="1"/>
<text x="887.80" y="572.60" font-size="12.23" font-weight="bold" stroke="#1e1e1e" stroke-width="0.28">Meso-CAR T</text>
<text x="887.60" y="589.50" font-size="12.40" font-weight="bold" stroke="#1e1e1e" stroke-width="0.28">sEVs-treated Meso-CAR T</text>
<text x="887.60" y="603.80" font-size="12.35" font-weight="bold" stroke="#1e1e1e" stroke-width="0.28">sEVs-IgG-treated Meso-CAR T</text>
<text x="888.20" y="618.80" font-size="12.49" font-weight="bold" stroke="#1e1e1e" stroke-width="0.28">sEVs-anti-PD-L1 Ab-</text>
<text x="888.20" y="628.80" font-size="12.39" font-weight="bold" stroke="#1e1e1e" stroke-width="0.28">treated Meso-CAR T</text>
<path d="M628.0,415.0 C629.7,414.8 635.0,414.6 638.0,414.0 C641.0,413.4 644.1,412.7 646.3,411.7 C648.5,410.7 649.5,409.5 651.0,408.0 C652.5,406.5 653.8,405.0 655.3,402.7 C656.8,400.4 658.5,397.0 660.0,394.0 C661.5,391.0 662.9,387.5 664.4,384.6 C665.9,381.7 667.6,379.1 668.9,376.7 C670.2,374.3 670.9,372.4 672.0,370.0 C673.1,367.6 674.6,363.9 675.6,362.0 C676.6,360.1 677.2,359.2 678.0,358.5 C678.8,357.8 679.5,357.4 680.2,357.6 C681.0,357.9 681.8,358.9 682.5,360.0 C683.2,361.1 684.0,363.4 684.7,364.3 C685.4,365.2 685.9,365.4 686.5,365.5 C687.1,365.6 687.9,364.6 688.5,364.6 C689.1,364.6 689.6,364.9 690.3,365.5 C691.0,366.1 691.8,367.1 692.5,368.0 C693.2,368.9 694.0,369.3 694.8,371.0 C695.6,372.7 696.6,375.9 697.5,378.0 C698.4,380.1 699.1,381.9 699.9,383.6 C700.7,385.3 701.5,386.4 702.5,388.0 C703.5,389.6 704.5,391.1 705.6,392.9 C706.7,394.6 707.8,396.6 709.0,398.5 C710.2,400.4 711.2,402.2 712.6,404.4 C714.0,406.5 716.0,409.8 717.2,411.4 C718.4,413.0 718.9,413.2 720.0,413.8 C721.1,414.4 723.3,414.8 724.0,415.0 Z" fill="#a3a3a3"/>
<line x1="562.90" y1="415.00" x2="860.00" y2="415.00" stroke="#a3a3a3" stroke-width="0.8" opacity="0.5"/>
<path d="M636.0,446.8 C637.3,446.6 641.7,446.0 644.0,445.5 C646.3,445.0 648.0,444.6 650.0,443.8 C652.0,443.1 654.2,442.3 656.0,441.0 C657.8,439.7 659.3,438.2 661.0,436.0 C662.7,433.8 664.8,430.8 666.3,427.6 C667.8,424.4 668.9,420.3 670.0,417.0 C671.1,413.7 672.1,410.5 673.0,408.0 C673.9,405.5 674.8,403.7 675.6,402.0 C676.4,400.3 677.1,399.3 678.0,398.0 C678.9,396.7 679.9,395.1 681.0,394.0 C682.1,392.9 683.6,391.9 684.8,391.7 C686.0,391.5 687.0,392.4 688.0,393.0 C689.0,393.6 690.1,394.9 691.0,395.5 C691.9,396.1 692.6,395.8 693.5,396.5 C694.4,397.2 695.6,398.6 696.4,399.8 C697.2,401.1 697.9,402.5 698.5,404.0 C699.1,405.5 699.2,407.2 700.0,409.0 C700.8,410.8 702.0,413.0 703.0,415.0 C704.0,417.0 704.8,418.8 706.0,421.0 C707.2,423.2 708.5,425.8 710.0,428.0 C711.5,430.2 713.3,432.3 715.0,434.5 C716.7,436.7 718.5,438.9 720.0,441.0 C721.5,443.1 723.3,445.8 724.0,446.8 Z" fill="#00ad00"/>
<line x1="562.90" y1="446.80" x2="860.00" y2="446.80" stroke="#00ad00" stroke-width="0.8" opacity="0.5"/>
<path d="M672.0,477.6 C674.0,477.5 680.7,477.4 684.0,476.8 C687.3,476.2 689.7,475.8 692.0,474.0 C694.3,472.2 696.1,469.5 698.0,466.0 C699.9,462.5 701.8,456.8 703.3,453.0 C704.8,449.2 705.5,446.1 707.0,443.0 C708.5,439.9 711.3,436.8 712.6,434.5 C713.9,432.2 714.2,430.4 715.0,429.0 C715.8,427.6 716.4,427.1 717.2,426.4 C718.0,425.7 718.9,425.1 720.0,424.8 C721.1,424.5 722.8,424.4 724.0,424.4 C725.2,424.4 726.0,424.5 727.0,425.0 C728.0,425.5 729.2,426.4 730.0,427.6 C730.8,428.8 731.2,430.1 731.8,432.0 C732.4,433.9 732.8,437.0 733.4,439.2 C734.0,441.4 734.7,443.1 735.5,445.0 C736.3,446.9 736.8,448.2 738.0,450.7 C739.2,453.2 741.4,457.6 742.7,460.0 C744.0,462.4 744.9,463.4 746.0,465.0 C747.1,466.6 748.3,468.0 749.6,469.3 C750.9,470.6 752.5,472.0 754.0,473.0 C755.5,474.0 756.9,474.7 758.9,475.5 C760.9,476.3 764.8,477.2 766.0,477.6 Z" fill="#0000dc"/>
<line x1="562.90" y1="477.60" x2="860.00" y2="477.60" stroke="#0000dc" stroke-width="0.8" opacity="0.5"/>
<path d="M654.0,509.4 C655.2,509.1 658.8,508.6 661.0,507.5 C663.2,506.4 665.0,504.6 667.0,503.0 C669.0,501.4 671.5,499.8 673.2,497.8 C675.0,495.8 676.1,493.3 677.5,491.0 C678.9,488.7 680.1,486.7 681.3,483.9 C682.5,481.1 683.7,477.3 684.8,474.0 C685.9,470.7 687.0,466.8 688.0,464.0 C689.0,461.2 690.0,458.8 691.0,457.5 C692.0,456.2 692.7,456.4 694.0,456.0 C695.3,455.6 697.4,454.8 698.7,454.9 C700.0,455.0 700.9,455.6 702.0,456.5 C703.1,457.4 704.4,458.4 705.6,460.0 C706.8,461.6 707.8,464.1 709.0,466.0 C710.2,467.9 711.4,469.9 712.6,471.6 C713.8,473.3 714.9,474.8 716.0,476.0 C717.1,477.2 718.0,478.1 719.0,479.0 C720.0,479.9 720.7,480.3 721.9,481.6 C723.1,482.9 724.5,485.1 726.0,487.0 C727.5,488.9 729.3,491.2 731.0,493.0 C732.7,494.8 734.0,496.4 736.0,498.0 C738.0,499.6 740.4,501.1 742.7,502.4 C745.0,503.7 747.3,505.0 750.0,506.0 C752.7,507.0 756.2,508.0 758.9,508.6 C761.6,509.2 764.8,509.3 766.0,509.4 Z" fill="#dc00dc"/>
<line x1="562.90" y1="509.40" x2="860.00" y2="509.40" stroke="#dc00dc" stroke-width="0.8" opacity="0.5"/>
<path d="M652.0,541.0 C653.0,540.8 656.2,540.7 658.0,540.0 C659.8,539.3 661.3,538.3 663.0,537.0 C664.7,535.7 666.2,534.0 668.0,532.0 C669.8,530.0 672.0,527.6 674.0,525.0 C676.0,522.4 678.7,519.1 680.2,516.3 C681.7,513.5 682.1,511.1 683.0,508.0 C683.9,504.9 684.4,501.2 685.5,498.0 C686.6,494.8 688.3,490.8 689.4,488.5 C690.5,486.2 691.1,485.1 692.0,484.0 C692.9,482.9 693.9,482.4 695.0,482.0 C696.1,481.6 697.6,481.3 698.7,481.6 C699.8,481.9 700.6,482.8 701.5,484.0 C702.4,485.2 703.2,487.3 704.0,489.0 C704.8,490.7 705.7,492.3 706.5,494.0 C707.3,495.7 708.2,497.5 709.0,499.0 C709.8,500.5 710.6,502.3 711.4,503.2 C712.2,504.1 713.0,504.1 714.0,504.4 C715.0,504.6 716.3,504.2 717.2,504.7 C718.1,505.2 718.7,506.3 719.5,507.5 C720.3,508.7 720.8,509.9 721.9,511.7 C723.0,513.5 724.5,515.7 726.0,518.0 C727.5,520.3 729.4,523.5 731.1,525.6 C732.8,527.7 734.4,528.9 736.0,530.5 C737.6,532.1 739.1,534.0 741.0,535.5 C742.9,537.0 744.8,538.5 747.3,539.4 C749.8,540.3 754.5,540.7 756.0,541.0 Z" fill="#ff8a00"/>
<line x1="562.90" y1="541.00" x2="860.00" y2="541.00" stroke="#ff8a00" stroke-width="0.8" opacity="0.5"/>
<path d="M666.0,570.7 C666.8,570.3 669.5,569.1 671.0,568.5 C672.5,567.9 673.5,567.6 675.0,567.0 C676.5,566.4 678.5,565.6 680.2,564.9 C681.9,564.2 683.5,563.6 685.0,563.0 C686.5,562.4 688.1,562.1 689.4,561.4 C690.7,560.7 691.8,560.0 693.0,559.0 C694.2,558.0 695.4,556.9 696.4,555.6 C697.4,554.3 698.1,552.8 699.0,551.0 C699.9,549.2 700.8,546.9 701.5,545.0 C702.2,543.1 702.5,541.6 703.3,539.4 C704.0,537.2 704.8,534.3 706.0,532.0 C707.2,529.7 709.0,527.4 710.3,525.6 C711.5,523.8 712.4,522.2 713.5,521.0 C714.6,519.8 716.0,518.4 717.2,518.1 C718.4,517.9 719.3,518.9 720.5,519.5 C721.7,520.1 723.0,521.1 724.2,522.0 C725.4,522.9 726.4,523.6 727.5,525.0 C728.6,526.4 730.2,528.4 731.1,530.2 C732.0,532.0 732.4,533.7 733.0,536.0 C733.6,538.3 733.9,541.7 734.6,544.0 C735.3,546.3 736.1,548.1 737.0,550.0 C737.9,551.9 739.0,553.8 740.0,555.5 C741.0,557.2 741.5,558.7 742.7,560.3 C743.9,561.9 745.1,563.3 747.0,565.0 C748.9,566.7 753.1,569.8 754.3,570.7 Z" fill="#ff0000"/>
<line x1="562.90" y1="570.70" x2="860.00" y2="570.70" stroke="#ff0000" stroke-width="0.8" opacity="0.5"/>
<line x1="723.00" y1="352.00" x2="723.00" y2="570.70" stroke="#1a1a1a" stroke-width="2.0" stroke-dasharray="6.2 3.3"/>
<rect x="562.90" y="346.70" width="297.10" height="224.00" fill="none" stroke="#888" stroke-width="1.2" />
<line x1="565.00" y1="572.00" x2="630.00" y2="572.00" stroke="#777" stroke-width="1.2" stroke-dasharray="1.2 2.6"/>
<line x1="588.50" y1="572.00" x2="597.50" y2="572.00" stroke="#333" stroke-width="1.6" />
<line x1="632.20" y1="571.00" x2="632.20" y2="573.20" stroke="#888" stroke-width="0.8" />
<line x1="655.00" y1="571.00" x2="655.00" y2="573.20" stroke="#888" stroke-width="0.8" />
<line x1="668.00" y1="571.00" x2="668.00" y2="573.20" stroke="#888" stroke-width="0.8" />
<line x1="677.00" y1="571.00" x2="677.00" y2="573.20" stroke="#888" stroke-width="0.8" />
<line x1="684.00" y1="571.00" x2="684.00" y2="573.20" stroke="#888" stroke-width="0.8" />
<line x1="689.00" y1="571.00" x2="689.00" y2="573.20" stroke="#888" stroke-width="0.8" />
<line x1="694.00" y1="571.00" x2="694.00" y2="573.20" stroke="#888" stroke-width="0.8" />
<line x1="698.00" y1="571.00" x2="698.00" y2="573.20" stroke="#888" stroke-width="0.8" />
<line x1="701.00" y1="571.00" x2="701.00" y2="573.20" stroke="#888" stroke-width="0.8" />
<line x1="712.00" y1="571.00" x2="712.00" y2="573.20" stroke="#888" stroke-width="0.8" />
<line x1="736.00" y1="571.00" x2="736.00" y2="573.20" stroke="#888" stroke-width="0.8" />
<line x1="750.00" y1="571.00" x2="750.00" y2="573.20" stroke="#888" stroke-width="0.8" />
<line x1="759.00" y1="571.00" x2="759.00" y2="573.20" stroke="#888" stroke-width="0.8" />
<line x1="766.00" y1="571.00" x2="766.00" y2="573.20" stroke="#888" stroke-width="0.8" />
<line x1="771.00" y1="571.00" x2="771.00" y2="573.20" stroke="#888" stroke-width="0.8" />
<line x1="775.00" y1="571.00" x2="775.00" y2="573.20" stroke="#888" stroke-width="0.8" />
<line x1="779.00" y1="571.00" x2="779.00" y2="573.20" stroke="#888" stroke-width="0.8" />
<line x1="789.00" y1="571.00" x2="789.00" y2="573.20" stroke="#888" stroke-width="0.8" />
<text x="728.50" y="362.80" font-size="9.59" font-weight="bold" fill="#262626" stroke="#262626" stroke-width="0.28">0.59%</text>
<text x="822.20" y="412.50" font-size="9.74" font-weight="bold" fill="#262626" stroke="#262626" stroke-width="0.28">Isotype</text>
<text x="737.70" y="426.00" font-size="9.21" font-weight="bold" fill="#262626" stroke="#262626" stroke-width="0.28">1.8%</text>
<text x="760.90" y="445.00" font-size="9.61" font-weight="bold" fill="#262626" stroke="#262626" stroke-width="0.28">Without Meso-CAR T</text>
<text x="748.20" y="458.10" font-size="9.42" font-weight="bold" fill="#262626" stroke="#262626" stroke-width="0.28">56.2%</text>
<text x="791.50" y="475.50" font-size="9.52" font-weight="bold" fill="#262626" stroke="#262626" stroke-width="0.28">+ Meso-CAR T</text>
<text x="741.90" y="488.00" font-size="9.35" font-weight="bold" fill="#262626" stroke="#262626" stroke-width="0.28">18.7%</text>
<text x="789.80" y="498.20" font-size="9.55" font-weight="bold" fill="#262626" stroke="#262626" stroke-width="0.28">+ sEVs-treated</text>
<text x="795.70" y="506.60" font-size="9.24" font-weight="bold" fill="#262626" stroke="#262626" stroke-width="0.28">Meso-CAR T</text>
<text x="738.90" y="519.80" font-size="9.20" font-weight="bold" fill="#262626" stroke="#262626" stroke-width="0.28">18.5%</text>
<text x="769.70" y="529.00" font-size="9.40" font-weight="bold" fill="#262626" stroke="#262626" stroke-width="0.28">+ sEVs-IgG-treated</text>
<text x="782.40" y="537.10" font-size="9.34" font-weight="bold" fill="#262626" stroke="#262626" stroke-width="0.28">Meso-CAR T</text>
<text x="745.90" y="553.30" font-size="9.59" font-weight="bold" fill="#262626" stroke="#262626" stroke-width="0.28">43.2%</text>
<text x="767.40" y="560.70" font-size="9.48" font-weight="bold" fill="#262626" stroke="#262626" stroke-width="0.28">+ sEVs-PD-L1-Ab-</text>
<text x="763.70" y="568.40" font-size="9.58" font-weight="bold" fill="#262626" stroke="#262626" stroke-width="0.28">treated Meso-CAR T</text>
<text x="590.90" y="594.90" font-size="10.80" font-weight="normal" text-anchor="middle">0</text>
<text x="626.00" y="594.90" font-size="10.80" font-weight="normal">10<tspan font-size="12" dy="-7.6">2</tspan></text>
<text x="707.60" y="594.90" font-size="10.80" font-weight="normal">10<tspan font-size="12" dy="-7.6">3</tspan></text>
<text x="785.10" y="594.90" font-size="10.80" font-weight="normal">10<tspan font-size="12" dy="-7.6">4</tspan></text>
<text x="726.40" y="608.30" font-size="14.21" font-weight="bold" stroke="#1e1e1e" stroke-width="0.28">Cleaved caspase-3</text>
<text x="544.30" y="426.30" font-size="13.80" font-weight="bold" stroke="#1e1e1e" stroke-width="0.28" transform="rotate(-90 544.30 426.30)">% of Max</text>
<line x1="539.20" y1="604.60" x2="539.20" y2="450.00" stroke="#111" stroke-width="1.6" />
<polygon points="539.2,439.2 534.7,452 543.7,452" fill="#111"/>
<line x1="538.40" y1="604.00" x2="706.00" y2="604.00" stroke="#111" stroke-width="1.6" />
<polygon points="720.0,604.0 703.0,599.6 703.0,608.4" fill="#111"/>
</svg>
</body></html>
